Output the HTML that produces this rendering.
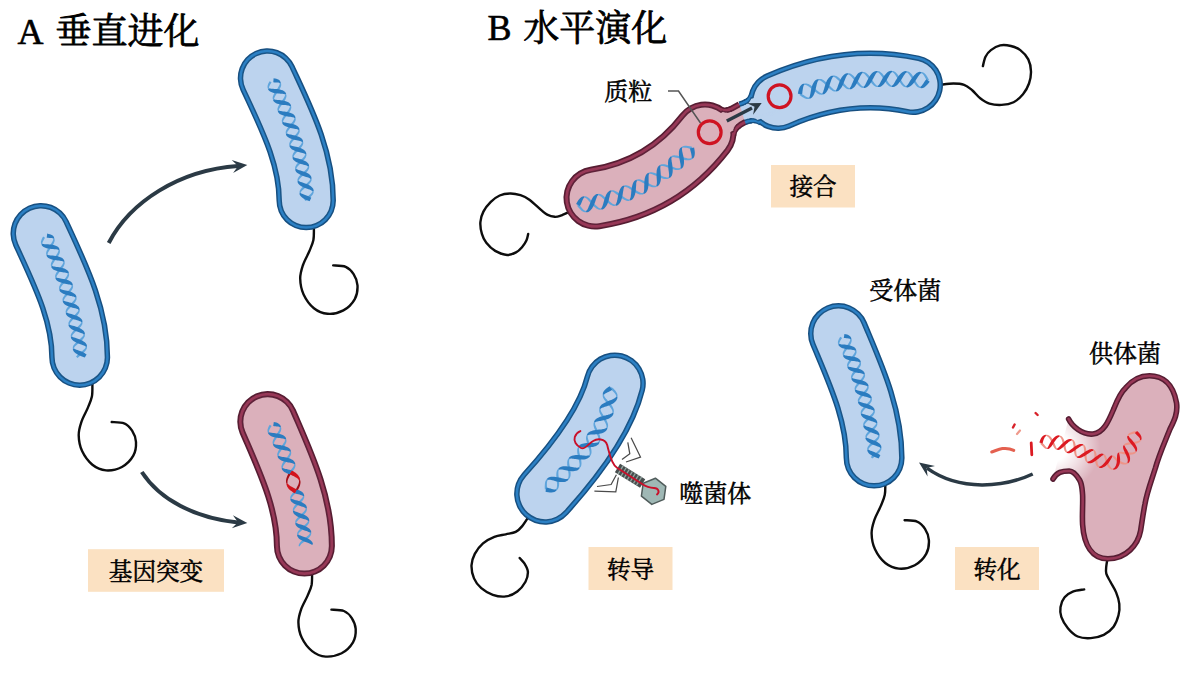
<!DOCTYPE html>
<html lang="zh"><head><meta charset="utf-8"><title>垂直进化与水平演化</title>
<style>
html,body{margin:0;padding:0;background:#fff;}
body{width:1181px;height:673px;overflow:hidden;font-family:"Liberation Serif","Noto Serif CJK SC",serif;}
svg text{font-family:"Liberation Serif","Noto Serif CJK SC",serif;}
</style></head><body>
<svg width="1181" height="673" viewBox="0 0 1181 673" style="display:block">
<text x="17.6" y="43.8" font-size="36" fill="#000" stroke="#000" stroke-width="0.6">A</text>
<text x="55.5" y="44.4" font-size="36" fill="#000" stroke="#000" stroke-width="0.8" stroke-linejoin="round">垂直进化</text>
<text x="487.5" y="40.4" font-size="36" fill="#000" stroke="#000" stroke-width="0.6">B</text>
<text x="523.2" y="40.6" font-size="36" fill="#000" stroke="#000" stroke-width="0.8" stroke-linejoin="round">水平演化</text>
<path d="M92.4 383.4C92.3 385.6 92.7 392.5 91.9 396.6C91.1 400.6 89.5 403.7 87.8 407.9C86.1 412.0 83.0 417.0 81.5 421.6C80.0 426.1 78.6 430.2 78.7 435.2C78.8 440.1 79.8 446.1 82.1 451.1C84.4 456.0 88.4 461.5 92.4 464.8C96.4 468.0 101.1 470.0 106.0 470.4C110.9 470.7 117.4 469.4 121.9 467.0C126.5 464.5 131.0 459.8 133.3 455.7C135.7 451.5 136.2 446.1 136.0 442.0C135.8 437.8 134.1 433.8 132.1 430.7C130.1 427.6 127.6 424.8 124.2 423.4C120.8 421.9 113.8 422.2 111.7 422.0" fill="none" stroke="#0d0d0d" stroke-width="2.4" stroke-linecap="round" stroke-linejoin="round"/>
<path d="M41.0 233.4C59.3 273.4 79.7 313.4 79.7 357.4" fill="none" stroke="#174f80" stroke-width="61.0" stroke-linecap="round" stroke-linejoin="round"/>
<path d="M41.0 233.4C59.3 273.4 79.7 313.4 79.7 357.4" fill="none" stroke="#2c80c4" stroke-width="58.0" stroke-linecap="round" stroke-linejoin="round"/>
<path d="M41.0 233.4C59.3 273.4 79.7 313.4 79.7 357.4" fill="none" stroke="#1a5587" stroke-width="53.0" stroke-linecap="round" stroke-linejoin="round"/>
<path d="M41.0 233.4C59.3 273.4 79.7 313.4 79.7 357.4" fill="none" stroke="#bcd3ee" stroke-width="50.0" stroke-linecap="round" stroke-linejoin="round"/>
<path d="M43.1 236.6L42.4 237.8L41.8 239.0L41.4 240.2L41.0 241.3L40.9 242.3L41.0 243.3L41.4 244.2L41.5 244.5L42.6 243.8L42.5 243.7L42.4 243.1L42.5 242.5L42.8 241.8L43.2 240.9L43.7 239.9L44.3 238.9L45.0 237.8Z" fill="#5fa5dc"/>
<path d="M53.2 238.7L53.2 239.3L53.0 240.0L52.8 240.8L52.3 241.7L51.7 242.7L51.1 243.8L50.3 244.9L49.5 246.1L48.7 247.3L48.0 248.5L47.3 249.7L46.7 250.8L46.3 252.0L46.1 253.0L46.1 254.1L46.4 255.0L46.5 255.3L47.6 254.8L47.6 254.6L47.6 254.0L47.7 253.4L48.0 252.6L48.5 251.7L49.1 250.7L49.8 249.7L50.6 248.5L51.4 247.4L52.2 246.1L52.9 244.9L53.6 243.7L54.1 242.5L54.5 241.4L54.7 240.2L54.6 239.2L54.3 238.3Z" fill="#5fa5dc"/>
<path d="M58.4 250.0L58.5 250.6L58.3 251.3L58.0 252.0L57.6 252.9L57.0 253.9L56.3 254.9L55.5 256.0L54.7 257.2L53.8 258.4L53.0 259.6L52.2 260.7L51.6 261.9L51.1 263.0L50.9 264.1L50.8 265.2L51.0 266.1L51.3 266.7L52.4 266.1L52.3 265.8L52.3 265.2L52.5 264.5L52.9 263.8L53.4 262.9L54.0 261.9L54.8 260.8L55.6 259.7L56.5 258.5L57.4 257.3L58.1 256.1L58.8 254.9L59.4 253.8L59.8 252.6L59.9 251.5L59.9 250.5L59.5 249.6Z" fill="#5fa5dc"/>
<path d="M63.3 261.8L63.3 262.4L63.1 263.1L62.7 263.9L62.2 264.8L61.5 265.8L60.7 266.8L59.8 267.9L58.9 269.1L58.0 270.2L57.2 271.4L56.4 272.6L55.8 273.7L55.4 274.8L55.1 275.9L55.1 276.9L55.4 277.9L56.6 277.4L56.5 276.9L56.7 276.2L57.0 275.5L57.5 274.7L58.2 273.7L59.0 272.7L59.8 271.6L60.7 270.5L61.6 269.3L62.5 268.1L63.3 267.0L63.9 265.8L64.4 264.6L64.7 263.5L64.7 262.4L64.5 261.5Z" fill="#5fa5dc"/>
<path d="M67.7 273.5L67.7 274.1L67.5 274.8L67.1 275.5L66.6 276.4L65.9 277.4L65.1 278.4L64.2 279.5L63.2 280.6L62.3 281.7L61.3 282.9L60.5 284.0L59.9 285.2L59.3 286.3L59.1 287.4L59.0 288.4L59.3 289.4L60.4 289.0L60.4 288.4L60.6 287.8L61.0 287.0L61.5 286.2L62.2 285.3L63.1 284.3L64.0 283.2L65.0 282.1L65.9 280.9L66.8 279.7L67.6 278.6L68.3 277.4L68.8 276.3L69.1 275.2L69.1 274.1L68.8 273.1Z" fill="#5fa5dc"/>
<path d="M71.7 285.4L71.6 286.1L71.4 286.7L71.0 287.5L70.5 288.3L69.7 289.3L68.8 290.3L67.9 291.4L66.9 292.5L65.9 293.6L64.9 294.7L64.1 295.9L63.4 297.0L62.8 298.1L62.5 299.2L62.5 300.2L62.8 301.2L63.9 300.8L63.9 300.2L64.1 299.6L64.4 298.9L65.0 298.1L65.7 297.1L66.6 296.2L67.6 295.1L68.6 294.0L69.6 292.9L70.5 291.7L71.4 290.6L72.1 289.4L72.7 288.3L73.0 287.2L73.1 286.1L72.8 285.1Z" fill="#5fa5dc"/>
<path d="M75.3 297.6L75.2 298.3L74.9 298.9L74.4 299.7L73.8 300.6L72.9 301.5L72.0 302.6L71.0 303.6L69.9 304.7L68.9 305.8L67.9 307.0L67.0 308.1L66.3 309.2L65.9 310.3L65.6 311.4L65.7 312.4L65.9 313.1L67.0 312.6L67.0 312.3L67.1 311.7L67.4 311.0L67.9 310.2L68.7 309.3L69.5 308.4L70.5 307.4L71.6 306.3L72.6 305.2L73.7 304.1L74.6 302.9L75.4 301.8L76.0 300.6L76.5 299.5L76.6 298.4L76.5 297.4Z" fill="#5fa5dc"/>
<path d="M78.4 309.9L78.3 310.5L78.0 311.2L77.5 312.0L76.7 312.8L75.9 313.8L74.8 314.8L73.8 315.8L72.6 316.9L71.6 318.0L70.6 319.1L69.7 320.3L69.0 321.4L68.5 322.5L68.4 323.6L68.5 324.6L68.5 324.9L69.8 324.5L69.7 324.3L69.8 323.7L70.1 323.1L70.6 322.3L71.3 321.5L72.1 320.6L73.2 319.6L74.2 318.6L75.4 317.5L76.5 316.4L77.5 315.3L78.3 314.1L79.1 313.0L79.5 311.8L79.8 310.7L79.7 309.7Z" fill="#5fa5dc"/>
<path d="M81.2 322.1L81.1 322.7L80.7 323.4L80.2 324.2L79.4 325.1L78.5 326.0L77.4 327.0L76.3 328.1L75.1 329.1L74.0 330.2L73.0 331.3L72.1 332.4L71.4 333.5L70.9 334.6L70.7 335.7L70.9 336.7L72.1 336.5L72.1 335.9L72.4 335.2L72.9 334.5L73.6 333.7L74.5 332.8L75.5 331.8L76.7 330.8L77.8 329.7L79.0 328.7L80.0 327.5L81.0 326.4L81.7 325.3L82.3 324.2L82.5 323.0L82.5 322.0Z" fill="#5fa5dc"/>
<path d="M83.6 334.4L83.5 335.0L83.2 335.7L82.6 336.5L81.8 337.3L80.8 338.2L79.7 339.2L78.5 340.2L77.3 341.3L76.2 342.3L75.1 343.4L74.2 344.5L73.4 345.6L72.9 346.7L72.8 347.8L72.9 348.9L74.1 348.6L74.1 348.0L74.4 347.3L74.9 346.6L75.7 345.8L76.6 344.9L77.7 344.0L78.8 343.0L80.1 342.0L81.2 340.9L82.4 339.8L83.3 338.7L84.1 337.5L84.7 336.4L84.9 335.3L84.9 334.2Z" fill="#5fa5dc"/>
<path d="M85.7 346.8L85.5 347.5L85.1 348.2L84.5 348.9L83.6 349.8L82.6 350.7L81.4 351.7L80.2 352.7L78.9 353.7L77.7 354.8L76.6 355.9L76.0 356.6L77.5 358.0L78.1 357.4L79.2 356.5L80.4 355.5L81.6 354.5L82.9 353.4L84.1 352.3L85.1 351.2L86.0 350.1L86.6 349.0L87.0 347.9L87.0 346.7Z" fill="#5fa5dc"/>
<path d="M46.7 237.8L48.1 237.8L49.2 237.9L50.3 237.9L51.2 238.0L51.9 238.1L52.6 238.2L53.1 238.5L53.1 238.7L54.4 238.2L54.2 238.0L53.9 237.0L53.2 236.1L52.3 235.3L51.2 234.7L49.9 234.2L48.6 233.9L47.2 233.6Z" fill="#2b7cc0"/>
<path d="M41.5 244.5L41.9 245.5L42.6 246.3L43.6 247.0L44.8 247.6L46.0 248.0L47.4 248.4L48.8 248.6L50.2 248.8L51.6 249.0L53.0 249.1L54.2 249.2L55.3 249.2L56.3 249.3L57.1 249.5L57.7 249.6L58.3 249.9L58.4 250.0L59.6 249.6L59.5 249.2L59.1 248.3L58.4 247.3L57.4 246.6L56.3 245.9L55.0 245.4L53.6 245.1L52.2 244.8L50.7 244.6L49.3 244.4L48.0 244.3L46.7 244.3L45.6 244.2L44.6 244.2L43.9 244.1L43.2 244.0L42.7 243.8Z" fill="#2b7cc0"/>
<path d="M46.5 255.3L46.8 256.2L47.5 257.2L48.4 257.9L49.4 258.6L50.7 259.1L52.0 259.6L53.4 259.9L54.9 260.1L56.3 260.3L57.7 260.5L58.9 260.6L60.1 260.8L61.0 260.9L61.8 261.0L62.5 261.2L63.1 261.5L63.2 261.8L64.6 261.5L64.3 260.8L63.9 259.8L63.2 258.9L62.3 258.1L61.1 257.4L59.8 256.9L58.4 256.5L57.0 256.1L55.5 255.9L54.1 255.7L52.8 255.6L51.5 255.5L50.5 255.4L49.5 255.3L48.8 255.2L48.2 255.0L47.6 254.7Z" fill="#2b7cc0"/>
<path d="M51.2 266.7L51.6 267.7L52.3 268.6L53.2 269.4L54.3 270.1L55.6 270.6L57.0 271.1L58.4 271.5L59.8 271.7L61.2 272.0L62.6 272.2L63.8 272.4L64.9 272.5L65.8 272.7L66.6 272.9L67.2 273.1L67.7 273.5L68.9 273.1L68.6 272.1L68.1 271.1L67.2 270.2L66.1 269.4L64.9 268.8L63.5 268.3L62.1 267.9L60.6 267.5L59.2 267.3L57.8 267.1L56.5 266.9L55.4 266.8L54.4 266.6L53.6 266.5L53.0 266.3L52.4 266.1Z" fill="#2b7cc0"/>
<path d="M55.4 277.9L55.7 278.9L56.3 279.9L57.1 280.7L58.2 281.5L59.5 282.1L60.8 282.6L62.3 283.0L63.7 283.4L65.1 283.7L66.5 283.9L67.7 284.2L68.8 284.4L69.8 284.6L70.5 284.8L71.2 285.0L71.7 285.4L72.8 285.1L72.6 284.0L72.1 283.0L71.3 282.1L70.2 281.3L68.9 280.6L67.6 280.0L66.1 279.6L64.7 279.2L63.2 278.9L61.8 278.7L60.6 278.4L59.5 278.3L58.5 278.1L57.7 277.9L57.1 277.7L56.6 277.4Z" fill="#2b7cc0"/>
<path d="M59.3 289.4L59.5 290.4L60.0 291.4L60.9 292.3L62.0 293.1L63.2 293.8L64.6 294.3L66.0 294.8L67.5 295.2L68.9 295.6L70.3 295.9L71.5 296.1L72.6 296.4L73.5 296.6L74.3 296.9L74.9 297.2L75.2 297.6L76.5 297.4L76.3 296.3L75.9 295.3L75.1 294.3L74.0 293.4L72.8 292.7L71.5 292.0L70.0 291.5L68.6 291.1L67.1 290.7L65.7 290.4L64.4 290.2L63.3 289.9L62.4 289.7L61.6 289.5L61.0 289.3L60.4 289.0Z" fill="#2b7cc0"/>
<path d="M62.7 301.2L63.0 302.3L63.6 303.3L64.5 304.2L65.6 305.0L66.9 305.7L68.3 306.3L69.7 306.8L71.2 307.3L72.6 307.7L73.9 308.0L75.1 308.3L76.2 308.6L77.0 308.9L77.7 309.1L78.3 309.5L78.4 309.9L79.7 309.7L79.6 309.0L79.3 307.9L78.7 306.8L77.7 305.9L76.6 305.0L75.3 304.3L73.9 303.7L72.4 303.2L70.9 302.7L69.5 302.4L68.2 302.1L67.0 301.8L66.0 301.6L65.2 301.3L64.5 301.1L64.0 300.8Z" fill="#2b7cc0"/>
<path d="M65.8 313.1L66.0 314.2L66.7 315.2L67.6 316.2L68.7 317.0L70.0 317.7L71.4 318.4L72.9 318.9L74.3 319.4L75.7 319.8L77.1 320.2L78.2 320.6L79.2 320.9L80.0 321.2L80.7 321.5L81.2 321.9L81.2 322.1L82.5 322.0L82.4 321.6L82.3 320.5L81.8 319.4L80.9 318.4L79.8 317.4L78.6 316.7L77.2 316.0L75.7 315.4L74.2 314.9L72.8 314.4L71.4 314.1L70.2 313.8L69.2 313.5L68.3 313.2L67.7 312.9L67.1 312.6Z" fill="#2b7cc0"/>
<path d="M68.5 324.9L68.7 326.0L69.3 327.1L70.2 328.1L71.3 329.0L72.6 329.8L74.0 330.5L75.5 331.1L77.0 331.6L78.4 332.1L79.7 332.5L80.9 332.9L81.8 333.2L82.6 333.5L83.2 333.9L83.6 334.4L84.9 334.2L84.8 333.1L84.4 331.9L83.6 330.8L82.6 329.9L81.3 329.0L79.9 328.3L78.5 327.6L77.0 327.0L75.5 326.6L74.2 326.1L72.9 325.8L71.9 325.5L71.0 325.2L70.3 324.9L69.8 324.5Z" fill="#2b7cc0"/>
<path d="M70.8 336.8L71.0 337.9L71.5 339.0L72.4 340.1L73.5 341.0L74.8 341.8L76.2 342.6L77.6 343.2L79.1 343.8L80.5 344.3L81.9 344.8L83.0 345.2L84.0 345.6L84.8 345.9L85.4 346.3L85.7 346.8L87.0 346.7L86.9 345.6L86.6 344.4L85.8 343.3L84.8 342.3L83.6 341.4L82.2 340.6L80.7 339.9L79.2 339.2L77.8 338.7L76.4 338.3L75.2 337.8L74.1 337.5L73.3 337.2L72.6 336.9L72.1 336.5Z" fill="#2b7cc0"/>
<path d="M72.8 348.9L73.0 350.1L73.6 351.2L74.5 352.3L75.6 353.3L76.9 354.1L78.3 354.9L79.8 355.6L81.3 356.2L82.7 356.7L84.0 357.2L84.8 357.5L86.6 354.6L85.8 354.0L84.5 353.1L83.0 352.3L81.5 351.6L80.0 351.0L78.6 350.5L77.4 350.1L76.3 349.7L75.4 349.3L74.7 349.0L74.2 348.6Z" fill="#2b7cc0"/>
<path d="M313.9 226.8C313.8 229.0 314.2 235.9 313.4 240.0C312.6 244.1 311.0 247.1 309.3 251.3C307.6 255.5 304.5 260.5 303.0 265.0C301.5 269.6 300.1 273.7 300.2 278.6C300.3 283.5 301.3 289.6 303.6 294.5C305.9 299.4 309.9 305.0 313.9 308.2C317.9 311.4 322.6 313.4 327.5 313.8C332.4 314.2 338.8 312.9 343.4 310.4C347.9 308.0 352.4 303.3 354.8 299.1C357.1 294.9 357.7 289.6 357.5 285.4C357.3 281.2 355.6 277.2 353.6 274.1C351.6 271.0 349.1 268.3 345.7 266.8C342.3 265.4 335.3 265.6 333.2 265.4" fill="none" stroke="#0d0d0d" stroke-width="2.4" stroke-linecap="round" stroke-linejoin="round"/>
<path d="M267.5 78.0C285.8 117.6 306.2 157.1 306.2 200.6" fill="none" stroke="#174f80" stroke-width="59.5" stroke-linecap="round" stroke-linejoin="round"/>
<path d="M267.5 78.0C285.8 117.6 306.2 157.1 306.2 200.6" fill="none" stroke="#2c80c4" stroke-width="56.5" stroke-linecap="round" stroke-linejoin="round"/>
<path d="M267.5 78.0C285.8 117.6 306.2 157.1 306.2 200.6" fill="none" stroke="#1a5587" stroke-width="51.5" stroke-linecap="round" stroke-linejoin="round"/>
<path d="M267.5 78.0C285.8 117.6 306.2 157.1 306.2 200.6" fill="none" stroke="#bcd3ee" stroke-width="48.5" stroke-linecap="round" stroke-linejoin="round"/>
<path d="M269.6 81.2L268.9 82.4L268.3 83.5L267.9 84.7L267.6 85.8L267.5 86.9L267.6 87.8L267.9 88.7L268.0 89.0L269.1 88.3L269.0 88.2L269.0 87.7L269.1 87.0L269.3 86.3L269.7 85.4L270.2 84.5L270.8 83.4L271.5 82.3Z" fill="#5fa5dc"/>
<path d="M279.7 83.2L279.7 83.8L279.6 84.4L279.3 85.2L278.9 86.1L278.3 87.1L277.7 88.2L276.9 89.3L276.1 90.4L275.4 91.6L274.6 92.8L273.9 94.0L273.4 95.2L272.9 96.3L272.7 97.4L272.7 98.4L272.9 99.3L273.1 99.9L274.2 99.3L274.1 99.0L274.2 98.4L274.4 97.8L274.7 97.0L275.2 96.1L275.8 95.1L276.5 94.0L277.3 92.9L278.1 91.7L278.8 90.5L279.6 89.3L280.2 88.1L280.7 86.9L281.1 85.8L281.2 84.7L281.1 83.6L280.8 82.7Z" fill="#5fa5dc"/>
<path d="M285.0 94.6L285.0 95.2L284.9 95.8L284.6 96.6L284.1 97.5L283.5 98.5L282.8 99.5L282.0 100.6L281.2 101.7L280.4 102.9L279.6 104.1L278.8 105.3L278.2 106.4L277.8 107.5L277.5 108.6L277.4 109.6L277.6 110.6L277.9 111.2L279.0 110.6L278.9 110.3L278.9 109.7L279.1 109.0L279.5 108.3L280.0 107.4L280.6 106.4L281.4 105.4L282.2 104.3L283.1 103.1L283.9 101.9L284.7 100.7L285.4 99.5L285.9 98.3L286.3 97.2L286.5 96.1L286.4 95.1L286.1 94.2Z" fill="#5fa5dc"/>
<path d="M289.9 106.3L289.9 106.9L289.7 107.6L289.3 108.3L288.8 109.2L288.2 110.2L287.4 111.2L286.5 112.3L285.7 113.4L284.8 114.6L283.9 115.8L283.2 116.9L282.5 118.0L282.1 119.2L281.8 120.2L281.8 121.3L282.0 122.2L282.1 122.5L283.3 122.0L283.2 121.8L283.2 121.3L283.4 120.6L283.7 119.9L284.3 119.0L284.9 118.1L285.7 117.1L286.6 116.0L287.5 114.9L288.4 113.7L289.2 112.5L290.0 111.3L290.6 110.2L291.0 109.0L291.3 107.9L291.3 106.9L291.1 105.9Z" fill="#5fa5dc"/>
<path d="M294.3 118.1L294.3 118.7L294.1 119.3L293.7 120.1L293.2 121.0L292.5 121.9L291.6 123.0L290.7 124.0L289.8 125.1L288.9 126.3L288.0 127.4L287.2 128.6L286.5 129.7L286.0 130.8L285.7 131.9L285.7 132.9L285.9 133.8L287.1 133.5L287.1 132.9L287.3 132.3L287.6 131.5L288.2 130.7L288.9 129.8L289.7 128.8L290.6 127.7L291.6 126.6L292.5 125.5L293.4 124.3L294.2 123.2L294.9 122.0L295.4 120.9L295.7 119.8L295.7 118.7L295.5 117.7Z" fill="#5fa5dc"/>
<path d="M298.3 129.9L298.3 130.5L298.1 131.2L297.7 131.9L297.2 132.8L296.4 133.7L295.6 134.7L294.6 135.7L293.6 136.8L292.6 138.0L291.7 139.1L290.8 140.2L290.1 141.3L289.6 142.4L289.3 143.5L289.2 144.6L289.4 145.5L290.6 145.2L290.6 144.6L290.8 144.0L291.2 143.2L291.8 142.4L292.5 141.5L293.4 140.5L294.3 139.5L295.3 138.4L296.3 137.3L297.3 136.1L298.1 135.0L298.8 133.8L299.4 132.7L299.7 131.6L299.7 130.5L299.5 129.5Z" fill="#5fa5dc"/>
<path d="M301.9 142.0L301.9 142.6L301.6 143.3L301.2 144.0L300.6 144.9L299.8 145.8L298.9 146.8L297.9 147.8L296.9 148.9L295.8 150.0L294.8 151.1L293.9 152.2L293.2 153.3L292.7 154.4L292.4 155.5L292.3 156.6L292.5 157.5L293.7 157.1L293.7 156.5L293.9 155.9L294.2 155.2L294.8 154.4L295.6 153.6L296.5 152.6L297.5 151.6L298.5 150.5L299.6 149.4L300.6 148.3L301.5 147.1L302.2 146.0L302.8 144.9L303.2 143.8L303.3 142.7L303.1 141.7Z" fill="#5fa5dc"/>
<path d="M305.1 154.3L305.0 155.0L304.7 155.6L304.2 156.4L303.5 157.3L302.6 158.2L301.6 159.2L300.5 160.3L299.4 161.3L298.3 162.4L297.3 163.5L296.5 164.6L295.8 165.7L295.3 166.8L295.1 167.9L295.1 168.9L295.2 169.2L296.4 168.9L296.4 168.7L296.5 168.1L296.8 167.5L297.3 166.7L298.0 165.9L298.9 165.0L299.9 164.0L301.0 163.0L302.1 161.9L303.2 160.8L304.2 159.7L305.1 158.5L305.8 157.4L306.2 156.3L306.5 155.2L306.4 154.2Z" fill="#5fa5dc"/>
<path d="M307.9 166.5L307.8 167.1L307.5 167.8L307.0 168.6L306.3 169.4L305.4 170.3L304.3 171.3L303.2 172.3L302.1 173.4L300.9 174.4L299.9 175.5L299.0 176.6L298.2 177.7L297.7 178.8L297.4 179.9L297.5 180.9L297.6 181.3L298.8 181.0L298.7 180.8L298.9 180.2L299.2 179.5L299.7 178.8L300.5 177.9L301.4 177.0L302.5 176.1L303.6 175.0L304.8 174.0L305.9 172.9L306.9 171.8L307.8 170.7L308.5 169.6L309.0 168.4L309.2 167.3L309.1 166.3Z" fill="#5fa5dc"/>
<path d="M310.3 178.9L310.2 179.5L309.8 180.2L309.3 180.9L308.5 181.8L307.5 182.7L306.4 183.7L305.3 184.7L304.1 185.7L302.9 186.8L301.8 187.8L300.9 188.9L300.2 190.0L299.7 191.1L299.5 192.2L299.6 193.3L300.8 193.0L300.8 192.4L301.1 191.8L301.7 191.0L302.4 190.2L303.3 189.4L304.4 188.4L305.6 187.4L306.8 186.4L308.0 185.3L309.1 184.3L310.0 183.1L310.8 182.0L311.4 180.9L311.6 179.8L311.6 178.7Z" fill="#5fa5dc"/>
<path d="M312.4 191.2L312.2 191.9L311.9 192.6L311.3 193.3L310.4 194.2L309.4 195.1L308.3 196.0L307.1 197.0L305.8 198.0L304.6 199.1L304.2 199.4L305.7 201.1L306.1 200.8L307.3 199.8L308.5 198.8L309.8 197.7L310.9 196.7L311.9 195.6L312.8 194.5L313.4 193.3L313.7 192.2L313.6 191.1Z" fill="#5fa5dc"/>
<path d="M273.3 82.3L274.5 82.4L275.7 82.4L276.8 82.4L277.7 82.5L278.4 82.6L279.0 82.7L279.6 83.0L279.6 83.2L280.9 82.7L280.7 82.4L280.3 81.5L279.7 80.6L278.8 79.8L277.6 79.2L276.4 78.8L275.0 78.4L273.6 78.2Z" fill="#2b7cc0"/>
<path d="M268.0 89.0L268.4 89.9L269.1 90.8L270.1 91.5L271.2 92.1L272.4 92.5L273.8 92.9L275.2 93.2L276.6 93.3L278.0 93.5L279.3 93.6L280.6 93.7L281.7 93.7L282.7 93.8L283.5 93.9L284.1 94.1L284.7 94.3L285.0 94.6L286.2 94.1L286.0 93.5L285.5 92.6L284.8 91.7L283.8 90.9L282.6 90.3L281.3 89.9L279.9 89.5L278.5 89.3L277.1 89.1L275.7 89.0L274.3 88.9L273.1 88.8L272.0 88.8L271.1 88.7L270.3 88.6L269.7 88.5L269.2 88.3Z" fill="#2b7cc0"/>
<path d="M273.1 99.9L273.4 100.9L274.1 101.8L275.0 102.5L276.1 103.2L277.4 103.7L278.7 104.1L280.1 104.4L281.5 104.7L282.9 104.9L284.3 105.0L285.5 105.1L286.6 105.3L287.6 105.4L288.4 105.5L289.1 105.7L289.7 106.0L289.8 106.3L291.1 105.9L290.9 105.3L290.5 104.3L289.8 103.4L288.8 102.6L287.7 101.9L286.4 101.4L285.0 101.0L283.6 100.7L282.2 100.4L280.8 100.2L279.4 100.1L278.2 100.0L277.1 99.9L276.2 99.8L275.4 99.7L274.8 99.6L274.3 99.3Z" fill="#2b7cc0"/>
<path d="M277.8 111.2L278.2 112.2L278.8 113.1L279.7 113.9L280.9 114.6L282.1 115.1L283.5 115.6L284.9 115.9L286.3 116.2L287.7 116.5L289.0 116.7L290.3 116.8L291.4 117.0L292.3 117.2L293.1 117.3L293.7 117.5L294.2 117.9L294.3 118.1L295.6 117.7L295.4 117.4L295.2 116.4L294.6 115.4L293.7 114.5L292.6 113.8L291.3 113.2L290.0 112.7L288.5 112.3L287.1 112.0L285.7 111.7L284.3 111.6L283.1 111.4L281.9 111.3L281.0 111.1L280.2 111.0L279.6 110.8L279.0 110.6Z" fill="#2b7cc0"/>
<path d="M282.1 122.5L282.4 123.5L283.0 124.5L283.9 125.3L285.0 126.0L286.2 126.6L287.6 127.1L289.0 127.5L290.4 127.9L291.9 128.2L293.2 128.4L294.4 128.7L295.5 128.9L296.4 129.1L297.2 129.3L297.8 129.5L298.3 129.9L299.5 129.5L299.3 128.5L298.7 127.5L297.9 126.6L296.8 125.8L295.6 125.1L294.3 124.5L292.8 124.1L291.4 123.7L290.0 123.4L288.6 123.2L287.3 123.0L286.2 122.8L285.2 122.6L284.5 122.5L283.8 122.3L283.3 122.0Z" fill="#2b7cc0"/>
<path d="M285.9 133.8L286.1 134.9L286.7 135.9L287.5 136.8L288.6 137.5L289.8 138.2L291.1 138.8L292.6 139.3L294.0 139.7L295.4 140.0L296.8 140.3L298.0 140.6L299.1 140.8L300.1 141.1L300.8 141.3L301.4 141.6L301.9 142.0L303.1 141.7L302.9 140.6L302.4 139.6L301.6 138.6L300.6 137.8L299.3 137.1L298.0 136.4L296.6 135.9L295.1 135.5L293.7 135.2L292.3 134.9L291.0 134.6L289.9 134.4L289.0 134.2L288.2 134.0L287.6 133.8L287.1 133.5Z" fill="#2b7cc0"/>
<path d="M289.4 145.5L289.6 146.6L290.1 147.6L291.0 148.5L292.0 149.4L293.3 150.1L294.6 150.7L296.0 151.2L297.5 151.7L298.9 152.0L300.3 152.4L301.5 152.7L302.6 153.0L303.5 153.2L304.2 153.5L304.8 153.8L305.1 154.3L306.4 154.2L306.2 153.1L305.8 152.0L305.1 151.0L304.1 150.1L302.9 149.3L301.6 148.6L300.2 148.0L298.7 147.5L297.3 147.1L295.9 146.8L294.6 146.5L293.5 146.2L292.5 146.0L291.7 145.8L291.1 145.5L290.6 145.2Z" fill="#2b7cc0"/>
<path d="M292.5 157.6L292.7 158.6L293.3 159.7L294.2 160.6L295.4 161.5L296.6 162.2L298.0 162.8L299.5 163.4L300.9 163.9L302.3 164.3L303.6 164.7L304.8 165.0L305.8 165.3L306.6 165.6L307.3 165.9L307.8 166.3L307.9 166.5L309.2 166.3L309.1 165.9L308.9 164.8L308.4 163.7L307.5 162.7L306.4 161.8L305.1 161.1L303.7 160.4L302.3 159.8L300.8 159.3L299.4 158.9L298.1 158.5L296.9 158.2L295.8 157.9L295.0 157.7L294.3 157.4L293.8 157.1Z" fill="#2b7cc0"/>
<path d="M295.2 169.2L295.3 170.3L295.9 171.4L296.7 172.4L297.8 173.3L299.1 174.1L300.4 174.8L301.9 175.4L303.3 176.0L304.8 176.4L306.1 176.9L307.3 177.2L308.3 177.6L309.1 177.9L309.8 178.2L310.3 178.7L310.3 178.9L311.6 178.7L311.5 178.4L311.4 177.2L310.9 176.1L310.0 175.1L309.0 174.1L307.7 173.3L306.3 172.6L304.8 171.9L303.4 171.4L301.9 170.9L300.6 170.5L299.4 170.2L298.4 169.9L297.6 169.6L296.9 169.3L296.4 168.9Z" fill="#2b7cc0"/>
<path d="M297.5 181.3L297.7 182.4L298.2 183.5L299.1 184.5L300.2 185.5L301.4 186.3L302.8 187.0L304.3 187.7L305.7 188.3L307.2 188.8L308.5 189.2L309.6 189.6L310.6 190.0L311.4 190.4L312.0 190.7L312.4 191.2L313.7 191.1L313.6 190.0L313.2 188.8L312.4 187.7L311.4 186.7L310.2 185.8L308.8 185.0L307.4 184.3L305.9 183.7L304.4 183.2L303.1 182.7L301.9 182.3L300.8 182.0L300.0 181.7L299.3 181.3L298.8 180.9Z" fill="#2b7cc0"/>
<path d="M299.5 193.3L299.6 194.4L300.2 195.6L301.0 196.6L302.1 197.6L303.4 198.5L304.8 199.3L306.2 200.0L307.7 200.6L309.1 201.1L309.6 201.3L311.3 197.7L310.9 197.4L309.4 196.7L307.9 196.0L306.5 195.4L305.1 194.9L303.9 194.5L302.8 194.1L302.0 193.8L301.3 193.4L300.8 193.0Z" fill="#2b7cc0"/>
<path d="M312.1 572.2C312.0 574.3 312.3 581.0 311.6 585.0C310.8 588.9 309.2 591.9 307.5 595.9C305.7 600.0 302.7 604.8 301.2 609.2C299.7 613.6 298.3 617.7 298.4 622.4C298.5 627.2 299.5 633.1 301.8 637.8C304.1 642.6 308.1 648.0 312.1 651.1C316.1 654.3 320.8 656.2 325.7 656.6C330.6 656.9 337.0 655.6 341.6 653.3C346.1 650.9 350.6 646.3 353.0 642.3C355.3 638.3 355.9 633.1 355.7 629.0C355.5 625.0 353.7 621.1 351.8 618.1C349.8 615.0 347.3 612.4 343.9 611.0C340.5 609.6 333.5 609.8 331.4 609.6" fill="none" stroke="#0d0d0d" stroke-width="2.4" stroke-linecap="round" stroke-linejoin="round"/>
<path d="M267.8 421.6C285.1 461.8 304.4 502.0 304.4 546.1" fill="none" stroke="#561d32" stroke-width="61.0" stroke-linecap="round" stroke-linejoin="round"/>
<path d="M267.8 421.6C285.1 461.8 304.4 502.0 304.4 546.1" fill="none" stroke="#973857" stroke-width="57.7" stroke-linecap="round" stroke-linejoin="round"/>
<path d="M267.8 421.6C285.1 461.8 304.4 502.0 304.4 546.1" fill="none" stroke="#5f2239" stroke-width="52.2" stroke-linecap="round" stroke-linejoin="round"/>
<path d="M267.8 421.6C285.1 461.8 304.4 502.0 304.4 546.1" fill="none" stroke="#dbb0bb" stroke-width="48.9" stroke-linecap="round" stroke-linejoin="round"/>
<path d="M269.7 424.7L269.0 425.9L268.4 427.1L268.0 428.2L267.6 429.3L267.5 430.3L267.5 431.3L267.7 432.2L268.0 432.8L269.1 432.2L269.0 431.8L269.0 431.3L269.1 430.6L269.4 429.8L269.8 429.0L270.3 428.0L270.9 427.0L271.6 425.9Z" fill="#5fa5dc"/>
<path d="M279.8 427.3L279.8 427.9L279.7 428.6L279.5 429.3L279.1 430.2L278.6 431.1L278.0 432.1L277.3 433.2L276.5 434.3L275.7 435.4L275.0 436.6L274.3 437.7L273.6 438.9L273.1 440.0L272.8 441.1L272.6 442.1L272.6 443.1L272.8 444.0L273.0 444.3L274.1 443.8L274.0 443.7L274.0 443.1L274.2 442.4L274.5 441.7L274.9 440.8L275.5 439.9L276.1 438.9L276.9 437.8L277.6 436.7L278.4 435.6L279.1 434.4L279.8 433.2L280.4 432.1L280.9 430.9L281.2 429.8L281.3 428.8L281.2 427.8L280.9 426.9Z" fill="#5fa5dc"/>
<path d="M285.0 439.4L285.0 440.0L284.9 440.6L284.7 441.4L284.3 442.2L283.7 443.1L283.1 444.1L282.3 445.2L281.5 446.3L280.7 447.4L279.9 448.5L279.1 449.7L278.4 450.8L277.9 451.9L277.5 453.0L277.2 454.0L277.2 455.0L277.5 456.0L277.6 456.2L278.7 455.8L278.7 455.6L278.7 455.0L278.8 454.4L279.2 453.6L279.6 452.8L280.2 451.9L280.9 450.9L281.7 449.8L282.5 448.7L283.4 447.6L284.2 446.4L284.9 445.3L285.5 444.1L286.0 443.0L286.4 441.9L286.5 440.8L286.4 439.8L286.1 438.9Z" fill="#5fa5dc"/>
<path d="M289.8 451.7L289.8 452.4L289.6 453.0L289.3 453.8L288.9 454.6L288.3 455.5L287.6 456.5L286.7 457.6L285.9 458.6L285.0 459.7L284.1 460.9L283.3 462.0L282.6 463.1L282.1 464.2L281.7 465.3L281.4 466.4L281.5 467.4L281.7 468.3L282.9 467.9L282.9 467.3L283.0 466.7L283.3 465.9L283.8 465.1L284.4 464.2L285.1 463.3L285.9 462.3L286.8 461.2L287.7 460.1L288.5 458.9L289.3 457.8L290.0 456.6L290.6 455.5L291.0 454.4L291.2 453.3L291.2 452.3L290.9 451.4Z" fill="#5fa5dc"/>
<path d="M294.1 464.2L294.1 464.8L293.9 465.5L293.6 466.3L293.1 467.1L292.4 468.0L291.6 469.0L290.8 470.0L289.9 471.1L289.2 472.0L291.3 473.1L291.6 472.6L292.5 471.4L293.4 470.3L294.2 469.2L294.8 468.0L295.2 466.9L295.5 465.9L295.5 464.8L295.3 463.9Z" fill="#5fa5dc"/>
<path d="M289.2 472.0L288.7 472.9L288.2 473.9L287.7 474.9L287.3 475.9L286.9 476.9L286.6 477.8L286.3 478.8L286.1 479.7L286.0 480.7L286.0 481.6L286.1 482.4L286.3 483.3L286.4 483.8L287.6 483.5L287.5 483.0L287.5 482.3L287.5 481.6L287.6 480.9L287.8 480.1L288.1 479.3L288.4 478.5L288.8 477.7L289.2 476.8L289.7 475.9L290.2 475.0L290.7 474.0L291.3 473.1Z" fill="#a50d16"/>
<path d="M298.9 480.3L299.0 481.0L299.0 481.8L298.9 482.5L298.7 483.3L298.5 484.1L298.1 484.9L297.7 485.8L297.3 486.6L296.8 487.5L296.3 488.5L295.7 489.4L295.1 490.4L294.8 490.8L296.5 492.4L297.1 491.5L297.7 490.6L298.2 489.6L298.7 488.6L299.2 487.6L299.6 486.6L300.0 485.6L300.2 484.6L300.4 483.6L300.5 482.7L300.5 481.8L300.4 480.9L300.1 480.0Z" fill="#a50d16"/>
<path d="M294.8 490.8L293.7 491.9L292.7 493.0L291.8 494.2L291.0 495.3L290.4 496.4L290.2 497.5L290.2 498.5L290.4 499.2L291.5 498.8L291.5 498.4L291.6 497.8L292.0 497.1L292.6 496.4L293.3 495.5L294.3 494.5L295.3 493.5L296.5 492.4Z" fill="#5fa5dc"/>
<path d="M303.0 496.1L302.8 496.7L302.5 497.4L301.9 498.2L301.1 499.1L300.2 500.0L299.1 501.0L298.0 502.1L296.9 503.2L295.9 504.3L294.9 505.3L294.1 506.4L293.5 507.5L293.0 508.6L292.8 509.7L292.9 510.7L293.0 511.0L294.1 510.7L294.1 510.5L294.2 509.9L294.5 509.2L295.0 508.5L295.7 507.7L296.5 506.8L297.5 505.8L298.5 504.8L299.6 503.8L300.7 502.7L301.8 501.5L302.7 500.4L303.5 499.2L304.0 498.1L304.3 497.0L304.2 495.9Z" fill="#5fa5dc"/>
<path d="M305.7 508.4L305.6 509.0L305.3 509.7L304.8 510.5L304.2 511.3L303.3 512.2L302.4 513.1L301.3 514.1L300.2 515.2L299.0 516.2L297.9 517.3L296.9 518.4L296.1 519.5L295.5 520.6L295.2 521.8L295.2 522.8L295.3 523.2L296.5 522.9L296.4 522.7L296.6 522.1L297.0 521.4L297.6 520.7L298.4 519.8L299.4 518.9L300.6 517.9L301.8 516.9L302.9 515.8L304.0 514.7L304.9 513.6L305.8 512.5L306.4 511.4L306.8 510.3L307.0 509.2L306.9 508.2Z" fill="#5fa5dc"/>
<path d="M308.0 520.9L307.9 521.5L307.5 522.2L306.9 522.9L306.0 523.8L305.0 524.7L303.8 525.7L302.6 526.7L301.3 527.8L300.1 528.9L299.1 530.0L298.2 531.1L297.5 532.2L297.1 533.3L297.1 534.4L297.2 534.7L298.4 534.5L298.4 534.3L298.5 533.7L299.0 533.1L299.6 532.3L300.5 531.4L301.6 530.5L302.8 529.5L304.1 528.5L305.3 527.4L306.5 526.3L307.5 525.2L308.4 524.1L309.0 522.9L309.3 521.8L309.3 520.7Z" fill="#5fa5dc"/>
<path d="M310.0 532.8L309.8 533.4L309.5 534.1L308.8 534.9L307.9 535.7L306.9 536.6L305.7 537.6L304.4 538.6L303.1 539.6L301.8 540.7L300.7 541.8L299.8 542.9L299.1 544.0L298.7 545.1L298.7 546.2L300.0 546.2L300.1 545.5L300.6 544.9L301.2 544.1L302.2 543.3L303.3 542.4L304.5 541.4L305.8 540.4L307.1 539.3L308.3 538.3L309.4 537.2L310.3 536.0L310.9 534.9L311.3 533.7L311.2 532.6Z" fill="#5fa5dc"/>
<path d="M273.2 426.1L274.4 426.2L275.6 426.3L276.6 426.4L277.5 426.5L278.3 426.6L278.9 426.8L279.5 427.0L279.7 427.3L281.0 426.9L280.7 426.3L280.3 425.3L279.6 424.5L278.7 423.7L277.6 423.1L276.4 422.6L275.1 422.2L273.8 421.9Z" fill="#2b7cc0"/>
<path d="M267.9 432.8L268.3 433.7L268.9 434.6L269.8 435.3L270.8 436.0L271.9 436.5L273.2 437.0L274.5 437.3L275.9 437.6L277.3 437.8L278.6 438.0L279.8 438.1L281.0 438.3L282.0 438.4L282.9 438.6L283.7 438.7L284.3 438.9L284.8 439.2L285.0 439.4L286.1 438.9L286.1 438.6L285.7 437.6L285.1 436.7L284.2 435.9L283.2 435.2L282.0 434.7L280.7 434.2L279.3 433.9L277.9 433.6L276.6 433.4L275.2 433.2L274.0 433.1L272.9 432.9L271.8 432.8L271.0 432.7L270.2 432.6L269.6 432.4L269.1 432.2Z" fill="#2b7cc0"/>
<path d="M273.0 444.3L273.2 445.3L273.8 446.2L274.6 447.0L275.6 447.7L276.7 448.3L278.0 448.8L279.3 449.2L280.7 449.6L282.0 449.8L283.4 450.1L284.6 450.3L285.8 450.5L286.8 450.6L287.7 450.8L288.5 451.0L289.1 451.2L289.7 451.6L289.8 451.8L291.0 451.4L290.9 451.0L290.6 450.0L290.0 449.1L289.1 448.2L288.1 447.5L286.9 446.9L285.6 446.4L284.3 446.0L282.9 445.6L281.5 445.4L280.2 445.1L278.9 445.0L277.8 444.8L276.8 444.7L275.9 444.5L275.2 444.4L274.6 444.2L274.1 443.8Z" fill="#2b7cc0"/>
<path d="M277.6 456.3L277.8 457.2L278.4 458.2L279.2 459.0L280.2 459.8L281.3 460.4L282.6 460.9L283.9 461.4L285.3 461.8L286.7 462.1L288.0 462.4L289.3 462.6L290.4 462.8L291.4 463.1L292.3 463.3L293.0 463.5L293.6 463.8L294.1 464.2L295.3 463.9L295.1 462.9L294.6 461.9L293.8 460.9L292.8 460.1L291.7 459.4L290.4 458.8L289.1 458.3L287.7 457.9L286.3 457.6L284.9 457.3L283.7 457.1L282.5 456.9L281.5 456.7L280.6 456.5L279.9 456.3L279.2 456.1L278.7 455.8Z" fill="#2b7cc0"/>
<path d="M281.7 468.3L281.9 469.3L282.5 470.2L283.2 471.1L284.2 471.9L285.4 472.6L286.7 473.2L288.0 473.7L289.4 474.1L289.8 474.3L291.7 470.4L290.5 470.0L289.2 469.7L287.9 469.4L286.7 469.1L285.6 468.9L284.7 468.7L284.0 468.5L283.4 468.2L282.9 467.9Z" fill="#2b7cc0"/>
<path d="M289.8 474.3L290.7 474.8L291.7 475.2L292.6 475.7L293.5 476.1L294.3 476.5L295.1 477.0L295.9 477.4L296.6 477.8L297.2 478.3L297.8 478.8L298.3 479.3L298.7 479.9L298.9 480.3L300.1 480.0L300.0 479.4L299.9 478.5L299.6 477.6L299.1 476.7L298.6 475.9L298.0 475.1L297.2 474.3L296.4 473.5L295.6 472.8L294.7 472.2L293.7 471.6L292.7 471.0L291.7 470.4Z" fill="#d3121c"/>
<path d="M286.4 483.8L286.5 484.7L286.8 485.6L287.1 486.5L287.6 487.3L288.2 488.2L288.9 489.0L289.6 489.7L290.5 490.4L291.4 491.1L292.3 491.8L293.2 492.4L294.2 493.0L295.3 493.5L296.7 489.5L296.4 489.3L295.4 488.8L294.4 488.2L293.5 487.8L292.6 487.3L291.8 486.8L291.0 486.4L290.3 485.9L289.6 485.5L289.0 485.0L288.5 484.6L288.0 484.0L287.6 483.5Z" fill="#d3121c"/>
<path d="M295.3 493.5L296.9 494.0L298.3 494.3L299.5 494.6L300.6 494.9L301.5 495.2L302.2 495.4L302.8 495.8L302.9 496.1L304.3 495.9L304.1 495.2L303.8 494.1L303.1 493.0L302.2 492.1L301.0 491.3L299.6 490.6L298.1 490.0L296.7 489.5Z" fill="#2b7cc0"/>
<path d="M290.3 499.2L290.5 500.3L291.2 501.4L292.1 502.3L293.3 503.2L294.6 503.9L296.1 504.5L297.6 505.1L298.9 505.5L300.3 506.0L301.5 506.4L302.6 506.7L303.6 507.1L304.4 507.4L305.1 507.7L305.6 508.2L305.7 508.4L306.9 508.2L306.9 507.8L306.7 506.7L306.2 505.6L305.4 504.6L304.3 503.7L303.1 502.9L301.8 502.2L300.4 501.6L298.9 501.0L297.4 500.6L296.0 500.2L294.8 499.9L293.7 499.6L292.8 499.3L292.1 499.1L291.6 498.8Z" fill="#2b7cc0"/>
<path d="M292.9 511.0L293.1 512.1L293.5 513.2L294.3 514.2L295.3 515.1L296.5 516.0L297.8 516.7L299.1 517.4L300.6 518.0L302.1 518.5L303.5 518.9L304.8 519.3L305.9 519.6L306.8 519.9L307.4 520.3L308.0 520.7L308.0 520.9L309.3 520.7L309.3 520.4L309.1 519.2L308.5 518.0L307.6 517.0L306.4 516.0L305.1 515.2L303.6 514.5L302.1 513.9L300.7 513.4L299.4 512.9L298.1 512.5L297.0 512.1L296.1 511.8L295.3 511.5L294.7 511.2L294.2 510.7Z" fill="#2b7cc0"/>
<path d="M295.2 523.2L295.4 524.3L296.0 525.5L296.9 526.5L298.0 527.5L299.4 528.3L300.8 529.0L302.4 529.6L303.9 530.2L305.3 530.7L306.6 531.1L307.7 531.5L308.6 531.9L309.3 532.2L309.9 532.6L310.0 532.8L311.2 532.6L311.2 532.3L311.1 531.1L310.4 529.9L309.5 528.8L308.3 527.9L306.9 527.0L305.4 526.3L303.9 525.6L302.4 525.1L301.0 524.6L299.7 524.2L298.6 523.9L297.7 523.6L297.0 523.3L296.5 522.9Z" fill="#2b7cc0"/>
<path d="M297.1 534.8L297.2 535.9L297.8 537.1L298.6 538.2L299.8 539.2L301.1 540.0L302.6 540.8L304.1 541.5L305.6 542.1L307.1 542.6L308.4 543.1L309.5 543.5L310.4 543.9L311.1 544.3L311.6 544.7L312.9 544.4L312.8 543.3L312.2 542.1L311.3 540.9L310.2 539.9L308.8 539.0L307.3 538.2L305.8 537.5L304.2 536.9L302.8 536.4L301.5 536.0L300.4 535.6L299.6 535.3L298.9 534.9L298.4 534.5Z" fill="#2b7cc0"/>
<path d="M108.7 243C130 202 179 170 238 166" fill="none" stroke="#2b3a45" stroke-width="4.0"/>
<path d="M247.3 165.0L233.1 173.0L238.1 166.0L231.7 160.1Z" fill="#2b3a45"/>
<path d="M141.8 472C160 500 195 518 238 522.5" fill="none" stroke="#2b3a45" stroke-width="4.0"/>
<path d="M247.3 523.0L231.8 528.2L238.0 522.2L232.9 515.2Z" fill="#2b3a45"/>
<rect x="88.0" y="549.2" width="136.0" height="42.6" fill="#fbe1c2"/>
<text x="108.8" y="579.59" font-size="23.6" fill="#000" stroke="#000" stroke-width="0.5" stroke-linejoin="round">基因突变</text>
<path d="M885.3 481.6C885.2 483.8 885.6 490.7 884.8 494.8C884.0 498.9 882.4 501.9 880.7 506.1C879.0 510.3 875.9 515.2 874.4 519.8C872.9 524.3 871.5 528.5 871.6 533.4C871.7 538.3 872.7 544.4 875.0 549.3C877.3 554.2 881.3 559.8 885.3 563.0C889.3 566.2 894.0 568.2 898.9 568.6C903.8 569.0 910.3 567.6 914.8 565.2C919.4 562.7 923.9 558.1 926.2 553.9C928.6 549.7 929.1 544.4 928.9 540.2C928.7 536.0 927.0 532.0 925.0 528.9C923.0 525.8 920.5 523.0 917.1 521.6C913.7 520.1 906.7 520.4 904.6 520.2" fill="none" stroke="#0d0d0d" stroke-width="2.4" stroke-linecap="round" stroke-linejoin="round"/>
<path d="M838.5 333.6C855.3 373.8 874.1 414.0 874.1 458.1" fill="none" stroke="#174f80" stroke-width="61.0" stroke-linecap="round" stroke-linejoin="round"/>
<path d="M838.5 333.6C855.3 373.8 874.1 414.0 874.1 458.1" fill="none" stroke="#2c80c4" stroke-width="58.0" stroke-linecap="round" stroke-linejoin="round"/>
<path d="M838.5 333.6C855.3 373.8 874.1 414.0 874.1 458.1" fill="none" stroke="#1a5587" stroke-width="53.0" stroke-linecap="round" stroke-linejoin="round"/>
<path d="M838.5 333.6C855.3 373.8 874.1 414.0 874.1 458.1" fill="none" stroke="#bcd3ee" stroke-width="50.0" stroke-linecap="round" stroke-linejoin="round"/>
<path d="M840.2 336.7L839.5 337.9L838.9 339.1L838.4 340.2L838.0 341.3L837.9 342.3L837.9 343.3L838.3 344.2L838.4 344.5L839.5 343.9L839.4 343.7L839.4 343.2L839.5 342.6L839.7 341.9L840.2 341.0L840.7 340.1L841.4 339.1L842.1 338.0Z" fill="#5fa5dc"/>
<path d="M850.2 339.1L850.2 339.7L850.1 340.4L849.8 341.2L849.3 342.0L848.8 343.0L848.1 344.0L847.3 345.1L846.5 346.2L845.6 347.4L844.8 348.6L844.1 349.7L843.5 350.9L843.0 352.0L842.7 353.0L842.7 354.1L842.8 355.0L843.1 355.6L844.2 355.1L844.1 354.7L844.2 354.2L844.4 353.5L844.7 352.7L845.3 351.8L845.9 350.9L846.7 349.8L847.5 348.7L848.3 347.6L849.1 346.4L849.9 345.2L850.6 344.0L851.1 342.9L851.5 341.7L851.7 340.7L851.7 339.6L851.4 338.7Z" fill="#5fa5dc"/>
<path d="M855.1 350.7L855.1 351.3L855.0 352.0L854.6 352.7L854.2 353.6L853.5 354.5L852.8 355.5L852.0 356.6L851.1 357.7L850.2 358.9L849.4 360.0L848.6 361.2L847.9 362.3L847.4 363.4L847.1 364.5L847.0 365.5L847.2 366.5L847.4 367.1L848.6 366.5L848.5 366.2L848.5 365.6L848.7 365.0L849.1 364.2L849.7 363.3L850.4 362.4L851.2 361.3L852.0 360.3L852.9 359.1L853.8 358.0L854.6 356.8L855.3 355.6L855.9 354.5L856.3 353.4L856.6 352.3L856.5 351.2L856.3 350.3Z" fill="#5fa5dc"/>
<path d="M859.6 362.6L859.6 363.2L859.4 363.8L859.0 364.6L858.4 365.5L857.7 366.4L856.9 367.4L856.0 368.5L855.1 369.6L854.2 370.7L853.3 371.9L852.5 373.0L851.9 374.1L851.4 375.2L851.1 376.3L851.0 377.3L851.3 378.3L851.3 378.6L852.5 378.1L852.4 377.9L852.4 377.4L852.6 376.7L853.0 376.0L853.5 375.2L854.2 374.2L855.1 373.3L855.9 372.2L856.9 371.1L857.8 370.0L858.7 368.8L859.5 367.6L860.2 366.5L860.7 365.4L861.0 364.3L861.0 363.2L860.8 362.2Z" fill="#5fa5dc"/>
<path d="M863.7 374.5L863.6 375.1L863.4 375.8L862.9 376.6L862.4 377.4L861.6 378.4L860.7 379.4L859.8 380.4L858.8 381.5L857.8 382.6L856.9 383.8L856.1 384.9L855.4 386.0L854.9 387.1L854.6 388.2L854.6 389.2L854.9 390.2L856.0 389.7L856.0 389.2L856.2 388.6L856.5 387.8L857.1 387.0L857.8 386.1L858.6 385.2L859.6 384.1L860.5 383.1L861.5 381.9L862.5 380.8L863.3 379.7L864.0 378.5L864.6 377.4L865.0 376.3L865.1 375.2L864.9 374.2Z" fill="#5fa5dc"/>
<path d="M867.3 386.5L867.3 387.1L867.0 387.8L866.6 388.5L865.9 389.4L865.2 390.3L864.3 391.3L863.3 392.4L862.2 393.5L861.2 394.6L860.2 395.7L859.4 396.8L858.7 397.9L858.1 399.0L857.8 400.1L857.8 401.1L858.0 401.7L859.2 401.4L859.2 401.0L859.4 400.4L859.7 399.7L860.3 399.0L861.0 398.1L861.9 397.1L862.9 396.1L863.9 395.0L864.9 393.9L865.9 392.8L866.8 391.7L867.6 390.5L868.2 389.4L868.6 388.3L868.7 387.2L868.5 386.2Z" fill="#5fa5dc"/>
<path d="M870.6 398.5L870.5 399.1L870.3 399.8L869.9 400.6L869.2 401.4L868.4 402.3L867.5 403.3L866.4 404.3L865.4 405.4L864.3 406.5L863.3 407.6L862.4 408.7L861.6 409.8L861.0 410.9L860.7 412.0L860.7 413.0L860.8 413.7L862.0 413.4L862.0 413.0L862.2 412.4L862.6 411.7L863.2 410.9L863.9 410.0L864.9 409.1L865.9 408.1L867.0 407.0L868.1 405.9L869.1 404.8L870.0 403.7L870.8 402.6L871.5 401.4L871.8 400.3L872.0 399.2L871.8 398.2Z" fill="#5fa5dc"/>
<path d="M873.5 410.8L873.4 411.4L873.1 412.1L872.6 412.9L872.0 413.7L871.1 414.6L870.1 415.6L869.0 416.6L867.8 417.7L866.7 418.7L865.7 419.8L864.8 420.9L864.0 422.0L863.5 423.1L863.2 424.2L863.2 425.3L863.3 425.6L864.5 425.3L864.5 425.1L864.6 424.5L865.0 423.9L865.6 423.1L866.3 422.3L867.2 421.3L868.3 420.4L869.4 419.3L870.6 418.3L871.7 417.2L872.7 416.1L873.5 414.9L874.2 413.8L874.7 412.7L874.9 411.6L874.7 410.6Z" fill="#5fa5dc"/>
<path d="M876.1 423.1L876.0 423.7L875.7 424.4L875.1 425.2L874.4 426.0L873.5 426.9L872.4 427.9L871.3 428.9L870.1 429.9L868.9 431.0L867.8 432.1L866.9 433.2L866.1 434.3L865.6 435.4L865.4 436.5L865.5 437.5L865.5 437.8L866.7 437.5L866.7 437.3L866.8 436.7L867.1 436.1L867.7 435.3L868.4 434.5L869.4 433.6L870.4 432.6L871.6 431.6L872.8 430.6L873.9 429.5L875.0 428.4L875.9 427.3L876.7 426.2L877.2 425.1L877.4 423.9L877.3 422.9Z" fill="#5fa5dc"/>
<path d="M878.3 435.6L878.1 436.2L877.7 436.9L877.1 437.7L876.3 438.6L875.3 439.5L874.1 440.4L872.9 441.5L871.7 442.5L870.5 443.6L869.4 444.6L868.5 445.7L867.8 446.8L867.3 447.9L867.2 449.0L867.3 449.7L868.5 449.5L868.5 449.1L868.8 448.5L869.3 447.8L870.0 447.0L870.9 446.1L872.0 445.2L873.2 444.2L874.4 443.2L875.6 442.2L876.8 441.1L877.8 440.0L878.6 438.9L879.2 437.7L879.5 436.6L879.5 435.5Z" fill="#5fa5dc"/>
<path d="M880.2 447.9L880.0 448.5L879.6 449.2L879.0 450.0L878.2 450.8L877.2 451.7L876.0 452.7L874.7 453.6L873.5 454.7L872.2 455.7L871.1 456.8L870.8 457.1L872.2 458.6L872.5 458.3L873.7 457.4L874.9 456.5L876.2 455.4L877.4 454.4L878.6 453.3L879.7 452.2L880.5 451.1L881.1 450.0L881.4 448.9L881.4 447.8Z" fill="#5fa5dc"/>
<path d="M843.8 338.1L845.1 338.1L846.3 338.2L847.3 338.3L848.2 338.4L849.0 338.5L849.6 338.7L850.1 339.0L850.2 339.2L851.4 338.7L851.3 338.4L851.0 337.5L850.3 336.5L849.4 335.8L848.3 335.1L847.1 334.6L845.8 334.2L844.4 333.9Z" fill="#2b7cc0"/>
<path d="M838.3 344.5L838.7 345.5L839.4 346.3L840.3 347.1L841.4 347.7L842.6 348.2L843.9 348.6L845.3 348.9L846.7 349.2L848.1 349.4L849.4 349.5L850.7 349.6L851.8 349.8L852.8 349.9L853.6 350.0L854.3 350.2L854.8 350.4L855.1 350.7L856.3 350.3L856.1 349.7L855.7 348.7L854.9 347.8L854.0 347.0L852.8 346.4L851.5 345.9L850.2 345.5L848.8 345.2L847.3 344.9L845.9 344.8L844.6 344.6L843.4 344.5L842.3 344.4L841.4 344.4L840.7 344.3L840.0 344.1L839.5 343.9Z" fill="#2b7cc0"/>
<path d="M843.0 355.6L843.3 356.6L844.0 357.5L844.8 358.3L845.9 359.0L847.1 359.5L848.5 360.0L849.8 360.4L851.3 360.7L852.7 360.9L854.0 361.1L855.3 361.3L856.4 361.4L857.3 361.6L858.2 361.8L858.8 362.0L859.4 362.2L859.5 362.6L860.9 362.2L860.7 361.6L860.3 360.6L859.6 359.6L858.7 358.8L857.5 358.1L856.3 357.6L854.9 357.1L853.5 356.7L852.0 356.4L850.6 356.2L849.3 356.0L848.1 355.9L847.0 355.8L846.1 355.6L845.3 355.5L844.7 355.3L844.2 355.1Z" fill="#2b7cc0"/>
<path d="M847.4 367.1L847.7 368.1L848.3 369.0L849.2 369.8L850.3 370.5L851.6 371.1L852.9 371.6L854.3 372.0L855.7 372.4L857.1 372.7L858.5 372.9L859.7 373.1L860.8 373.3L861.7 373.5L862.5 373.7L863.1 373.9L863.6 374.3L863.6 374.5L864.9 374.2L864.8 373.9L864.6 372.9L864.0 371.9L863.2 371.0L862.1 370.2L860.9 369.5L859.5 369.0L858.1 368.5L856.7 368.2L855.2 367.9L853.9 367.7L852.6 367.5L851.5 367.3L850.6 367.1L849.8 367.0L849.1 366.8L848.6 366.5Z" fill="#2b7cc0"/>
<path d="M851.3 378.6L851.6 379.6L852.2 380.6L853.1 381.5L854.2 382.2L855.4 382.8L856.8 383.4L858.2 383.8L859.7 384.2L861.1 384.5L862.4 384.8L863.6 385.1L864.7 385.3L865.6 385.5L866.3 385.8L866.9 386.1L867.3 386.5L868.6 386.2L868.4 385.2L867.9 384.1L867.1 383.2L866.1 382.3L864.9 381.6L863.6 381.0L862.2 380.5L860.7 380.1L859.3 379.7L857.9 379.4L856.6 379.2L855.5 379.0L854.5 378.8L853.7 378.6L853.1 378.4L852.5 378.1Z" fill="#2b7cc0"/>
<path d="M854.8 390.2L855.1 391.2L855.6 392.2L856.5 393.1L857.6 393.9L858.8 394.6L860.2 395.2L861.6 395.7L863.1 396.1L864.5 396.5L865.8 396.8L867.0 397.1L868.1 397.4L869.0 397.7L869.7 397.9L870.3 398.2L870.6 398.5L871.8 398.2L871.7 397.5L871.3 396.4L870.6 395.4L869.6 394.5L868.5 393.7L867.1 393.1L865.7 392.5L864.3 392.0L862.8 391.6L861.4 391.3L860.1 391.0L859.0 390.7L858.0 390.5L857.2 390.3L856.6 390.0L856.1 389.7Z" fill="#2b7cc0"/>
<path d="M858.0 401.7L858.1 402.8L858.7 403.9L859.5 404.8L860.5 405.7L861.7 406.4L863.1 407.1L864.5 407.6L866.0 408.1L867.4 408.6L868.8 408.9L870.0 409.3L871.1 409.6L871.9 409.9L872.7 410.1L873.2 410.5L873.5 410.8L874.7 410.6L874.7 409.9L874.3 408.7L873.6 407.7L872.7 406.7L871.5 405.9L870.2 405.2L868.8 404.6L867.3 404.0L865.8 403.6L864.5 403.2L863.2 402.9L862.0 402.6L861.1 402.3L860.3 402.1L859.7 401.8L859.2 401.4Z" fill="#2b7cc0"/>
<path d="M860.8 413.7L861.0 414.8L861.5 415.8L862.3 416.8L863.4 417.7L864.6 418.5L866.0 419.2L867.4 419.8L868.9 420.3L870.3 420.8L871.7 421.2L872.9 421.6L873.9 421.9L874.7 422.2L875.4 422.5L876.0 422.9L876.1 423.1L877.3 422.9L877.3 422.5L877.1 421.4L876.5 420.3L875.6 419.3L874.5 418.4L873.2 417.6L871.8 416.9L870.3 416.3L868.9 415.8L867.5 415.3L866.1 414.9L865.0 414.6L864.0 414.3L863.2 414.0L862.5 413.7L862.0 413.4Z" fill="#2b7cc0"/>
<path d="M863.3 425.6L863.4 426.7L863.9 427.8L864.7 428.8L865.8 429.8L867.1 430.6L868.4 431.3L869.9 432.0L871.4 432.5L872.8 433.0L874.1 433.5L875.3 433.9L876.3 434.2L877.1 434.6L877.8 434.9L878.3 435.4L878.2 435.6L879.6 435.5L879.5 435.2L879.4 434.0L878.9 432.9L878.1 431.8L877.0 430.8L875.8 430.0L874.4 429.2L872.9 428.6L871.4 428.0L870.0 427.5L868.7 427.1L867.5 426.7L866.5 426.4L865.7 426.0L865.0 425.7L864.5 425.3Z" fill="#2b7cc0"/>
<path d="M865.4 437.9L865.6 439.0L866.2 440.1L867.1 441.2L868.2 442.1L869.5 443.0L870.9 443.7L872.4 444.4L873.8 445.0L875.3 445.5L876.5 446.0L877.7 446.4L878.6 446.8L879.3 447.1L879.9 447.5L880.2 447.9L881.4 447.8L881.4 447.0L881.1 445.8L880.5 444.7L879.5 443.6L878.3 442.7L877.0 441.8L875.5 441.1L874.0 440.4L872.6 439.9L871.2 439.4L869.9 438.9L868.9 438.6L868.0 438.2L867.3 437.9L866.8 437.5Z" fill="#2b7cc0"/>
<path d="M867.3 449.7L867.4 450.9L867.9 452.1L868.7 453.2L869.8 454.2L871.1 455.1L872.5 455.9L873.9 456.6L875.4 457.2L876.8 457.8L878.1 458.3L878.6 458.5L880.4 455.3L880.0 455.0L878.6 454.1L877.2 453.4L875.7 452.7L874.2 452.1L872.8 451.5L871.6 451.1L870.5 450.7L869.7 450.3L869.0 450.0L868.5 449.5Z" fill="#2b7cc0"/>
<text x="869.3" y="299.3" font-size="24" fill="#000" stroke="#000" stroke-width="0.5" stroke-linejoin="round">受体菌</text>
<text x="1089" y="362.3" font-size="24" fill="#000" stroke="#000" stroke-width="0.5" stroke-linejoin="round">供体菌</text>
<text x="679.3" y="502.3" font-size="24" fill="#000" stroke="#000" stroke-width="0.5" stroke-linejoin="round">噬菌体</text>
<text x="604.3" y="100.2" font-size="24" fill="#000" stroke="#000" stroke-width="0.5" stroke-linejoin="round">质粒</text>
<rect x="771.0" y="165.0" width="84.0" height="42.5" fill="#fbe1c2"/>
<text x="789.4" y="195.34" font-size="23.6" fill="#000" stroke="#000" stroke-width="0.5" stroke-linejoin="round">接合</text>
<rect x="588.5" y="547.0" width="84.0" height="43.0" fill="#fbe1c2"/>
<text x="606.9" y="577.59" font-size="23.6" fill="#000" stroke="#000" stroke-width="0.5" stroke-linejoin="round">转导</text>
<rect x="955.0" y="547.0" width="84.0" height="43.0" fill="#fbe1c2"/>
<text x="973.4" y="577.59" font-size="23.6" fill="#000" stroke="#000" stroke-width="0.5" stroke-linejoin="round">转化</text>
<path d="M569.0 212.0C567.6 212.6 563.0 214.9 560.6 215.7C558.2 216.5 556.9 217.0 554.7 216.8C552.5 216.6 549.4 215.7 547.2 214.6C545.0 213.5 544.3 212.6 541.3 210.1C538.3 207.6 532.9 202.2 529.4 199.7C525.9 197.2 523.7 196.2 520.5 195.2C517.3 194.2 513.6 193.4 510.1 193.5C506.6 193.6 502.9 194.1 499.7 195.5C496.5 196.9 493.5 199.2 490.8 201.9C488.1 204.6 485.1 208.2 483.4 211.6C481.7 214.9 480.6 218.3 480.4 222.0C480.1 225.7 480.9 230.4 481.9 233.9C482.9 237.4 484.1 240.0 486.3 242.8C488.5 245.6 491.7 248.9 495.2 250.9C498.7 252.9 503.6 254.8 507.1 255.0C510.6 255.2 513.5 253.7 516.0 252.4C518.5 251.1 520.3 249.2 522.0 247.2C523.7 245.2 525.4 242.7 526.4 240.5C527.4 238.3 527.9 235.0 528.2 233.9" fill="none" stroke="#0d0d0d" stroke-width="2.4" stroke-linecap="round" stroke-linejoin="round"/>
<path d="M940.0 84.8C942.2 84.6 949.4 83.5 953.4 83.5C957.4 83.5 961.0 83.7 964.1 84.8C967.2 85.9 969.5 88.0 972.2 90.2C974.9 92.4 977.3 96.0 980.2 98.2C983.1 100.4 985.9 102.5 989.5 103.6C993.1 104.7 997.6 105.1 1001.6 104.9C1005.6 104.7 1010.0 104.0 1013.6 102.2C1017.2 100.4 1020.4 97.3 1023.0 94.2C1025.6 91.1 1027.7 87.3 1029.0 83.5C1030.3 79.7 1031.1 75.5 1031.0 71.5C1030.9 67.5 1030.1 63.0 1028.3 59.4C1026.5 55.8 1023.2 52.3 1020.3 50.1C1017.4 47.9 1014.2 46.8 1010.9 46.0C1007.5 45.2 1003.5 44.7 1000.2 45.4C996.9 46.1 993.4 48.2 990.9 50.1C988.4 52.0 986.8 54.0 985.5 56.7C984.2 59.4 983.3 64.5 982.9 66.1" fill="none" stroke="#0d0d0d" stroke-width="2.4" stroke-linecap="round" stroke-linejoin="round"/>
<path d="M595.0 198.0Q663.0 187.5 705.0 133.0" fill="none" stroke="#561d32" stroke-width="63.0" stroke-linecap="round" stroke-linejoin="round"/>
<path d="M705.0 134.0L743.7 112.4" fill="none" stroke="#561d32" stroke-width="24.5" stroke-linecap="butt" stroke-linejoin="round"/>
<path d="M705.0 134.0L728.4 121.0" fill="none" stroke="#561d32" stroke-width="33.3" stroke-linecap="butt" stroke-linejoin="round"/>
<path d="M705.0 134.0L729.0 120.6" fill="none" stroke="#561d32" stroke-width="31.6" stroke-linecap="butt" stroke-linejoin="round"/>
<path d="M705.0 134.0L729.6 120.3" fill="none" stroke="#561d32" stroke-width="30.2" stroke-linecap="butt" stroke-linejoin="round"/>
<path d="M705.0 134.0L730.2 119.9" fill="none" stroke="#561d32" stroke-width="29.1" stroke-linecap="butt" stroke-linejoin="round"/>
<path d="M705.0 134.0L730.8 119.6" fill="none" stroke="#561d32" stroke-width="28.1" stroke-linecap="butt" stroke-linejoin="round"/>
<path d="M705.0 134.0L731.4 119.3" fill="none" stroke="#561d32" stroke-width="27.2" stroke-linecap="butt" stroke-linejoin="round"/>
<path d="M705.0 134.0L732.0 118.9" fill="none" stroke="#561d32" stroke-width="26.5" stroke-linecap="butt" stroke-linejoin="round"/>
<path d="M705.0 134.0L732.7 118.6" fill="none" stroke="#561d32" stroke-width="25.9" stroke-linecap="butt" stroke-linejoin="round"/>
<path d="M705.0 134.0L733.3 118.2" fill="none" stroke="#561d32" stroke-width="25.5" stroke-linecap="butt" stroke-linejoin="round"/>
<path d="M705.0 134.0L733.9 117.9" fill="none" stroke="#561d32" stroke-width="25.1" stroke-linecap="butt" stroke-linejoin="round"/>
<path d="M705.0 134.0L734.5 117.6" fill="none" stroke="#561d32" stroke-width="24.8" stroke-linecap="butt" stroke-linejoin="round"/>
<path d="M705.0 134.0L735.1 117.2" fill="none" stroke="#561d32" stroke-width="24.6" stroke-linecap="butt" stroke-linejoin="round"/>
<path d="M705.0 134.0L735.7 116.9" fill="none" stroke="#561d32" stroke-width="24.5" stroke-linecap="butt" stroke-linejoin="round"/>
<path d="M778.0 101.0Q846.0 71.0 913.0 85.0" fill="none" stroke="#174f80" stroke-width="60.0" stroke-linecap="round" stroke-linejoin="round"/>
<path d="M778.0 102.0L742.3 113.2" fill="none" stroke="#174f80" stroke-width="24.5" stroke-linecap="butt" stroke-linejoin="round"/>
<path d="M778.0 102.0L754.0 109.5" fill="none" stroke="#174f80" stroke-width="32.9" stroke-linecap="butt" stroke-linejoin="round"/>
<path d="M778.0 102.0L753.4 109.7" fill="none" stroke="#174f80" stroke-width="31.3" stroke-linecap="butt" stroke-linejoin="round"/>
<path d="M778.0 102.0L752.7 109.9" fill="none" stroke="#174f80" stroke-width="30.0" stroke-linecap="butt" stroke-linejoin="round"/>
<path d="M778.0 102.0L752.0 110.1" fill="none" stroke="#174f80" stroke-width="28.8" stroke-linecap="butt" stroke-linejoin="round"/>
<path d="M778.0 102.0L751.4 110.4" fill="none" stroke="#174f80" stroke-width="27.9" stroke-linecap="butt" stroke-linejoin="round"/>
<path d="M778.0 102.0L750.7 110.6" fill="none" stroke="#174f80" stroke-width="27.1" stroke-linecap="butt" stroke-linejoin="round"/>
<path d="M778.0 102.0L750.0 110.8" fill="none" stroke="#174f80" stroke-width="26.4" stroke-linecap="butt" stroke-linejoin="round"/>
<path d="M778.0 102.0L749.4 111.0" fill="none" stroke="#174f80" stroke-width="25.8" stroke-linecap="butt" stroke-linejoin="round"/>
<path d="M778.0 102.0L748.7 111.2" fill="none" stroke="#174f80" stroke-width="25.4" stroke-linecap="butt" stroke-linejoin="round"/>
<path d="M778.0 102.0L748.0 111.4" fill="none" stroke="#174f80" stroke-width="25.0" stroke-linecap="butt" stroke-linejoin="round"/>
<path d="M778.0 102.0L747.4 111.6" fill="none" stroke="#174f80" stroke-width="24.8" stroke-linecap="butt" stroke-linejoin="round"/>
<path d="M778.0 102.0L746.7 111.8" fill="none" stroke="#174f80" stroke-width="24.6" stroke-linecap="butt" stroke-linejoin="round"/>
<path d="M778.0 102.0L746.0 112.0" fill="none" stroke="#174f80" stroke-width="24.5" stroke-linecap="butt" stroke-linejoin="round"/>
<path d="M595.0 198.0Q663.0 187.5 705.0 133.0" fill="none" stroke="#973857" stroke-width="59.7" stroke-linecap="round" stroke-linejoin="round"/>
<path d="M705.0 134.0L743.7 112.4" fill="none" stroke="#973857" stroke-width="21.2" stroke-linecap="butt" stroke-linejoin="round"/>
<path d="M705.0 134.0L728.4 121.0" fill="none" stroke="#973857" stroke-width="30.0" stroke-linecap="butt" stroke-linejoin="round"/>
<path d="M705.0 134.0L729.0 120.6" fill="none" stroke="#973857" stroke-width="28.3" stroke-linecap="butt" stroke-linejoin="round"/>
<path d="M705.0 134.0L729.6 120.3" fill="none" stroke="#973857" stroke-width="26.9" stroke-linecap="butt" stroke-linejoin="round"/>
<path d="M705.0 134.0L730.2 119.9" fill="none" stroke="#973857" stroke-width="25.8" stroke-linecap="butt" stroke-linejoin="round"/>
<path d="M705.0 134.0L730.8 119.6" fill="none" stroke="#973857" stroke-width="24.8" stroke-linecap="butt" stroke-linejoin="round"/>
<path d="M705.0 134.0L731.4 119.3" fill="none" stroke="#973857" stroke-width="23.9" stroke-linecap="butt" stroke-linejoin="round"/>
<path d="M705.0 134.0L732.0 118.9" fill="none" stroke="#973857" stroke-width="23.2" stroke-linecap="butt" stroke-linejoin="round"/>
<path d="M705.0 134.0L732.7 118.6" fill="none" stroke="#973857" stroke-width="22.6" stroke-linecap="butt" stroke-linejoin="round"/>
<path d="M705.0 134.0L733.3 118.2" fill="none" stroke="#973857" stroke-width="22.2" stroke-linecap="butt" stroke-linejoin="round"/>
<path d="M705.0 134.0L733.9 117.9" fill="none" stroke="#973857" stroke-width="21.8" stroke-linecap="butt" stroke-linejoin="round"/>
<path d="M705.0 134.0L734.5 117.6" fill="none" stroke="#973857" stroke-width="21.5" stroke-linecap="butt" stroke-linejoin="round"/>
<path d="M705.0 134.0L735.1 117.2" fill="none" stroke="#973857" stroke-width="21.3" stroke-linecap="butt" stroke-linejoin="round"/>
<path d="M705.0 134.0L735.7 116.9" fill="none" stroke="#973857" stroke-width="21.2" stroke-linecap="butt" stroke-linejoin="round"/>
<path d="M778.0 101.0Q846.0 71.0 913.0 85.0" fill="none" stroke="#2c80c4" stroke-width="57.0" stroke-linecap="round" stroke-linejoin="round"/>
<path d="M778.0 102.0L742.3 113.2" fill="none" stroke="#2c80c4" stroke-width="21.5" stroke-linecap="butt" stroke-linejoin="round"/>
<path d="M778.0 102.0L754.0 109.5" fill="none" stroke="#2c80c4" stroke-width="29.9" stroke-linecap="butt" stroke-linejoin="round"/>
<path d="M778.0 102.0L753.4 109.7" fill="none" stroke="#2c80c4" stroke-width="28.3" stroke-linecap="butt" stroke-linejoin="round"/>
<path d="M778.0 102.0L752.7 109.9" fill="none" stroke="#2c80c4" stroke-width="27.0" stroke-linecap="butt" stroke-linejoin="round"/>
<path d="M778.0 102.0L752.0 110.1" fill="none" stroke="#2c80c4" stroke-width="25.8" stroke-linecap="butt" stroke-linejoin="round"/>
<path d="M778.0 102.0L751.4 110.4" fill="none" stroke="#2c80c4" stroke-width="24.9" stroke-linecap="butt" stroke-linejoin="round"/>
<path d="M778.0 102.0L750.7 110.6" fill="none" stroke="#2c80c4" stroke-width="24.1" stroke-linecap="butt" stroke-linejoin="round"/>
<path d="M778.0 102.0L750.0 110.8" fill="none" stroke="#2c80c4" stroke-width="23.4" stroke-linecap="butt" stroke-linejoin="round"/>
<path d="M778.0 102.0L749.4 111.0" fill="none" stroke="#2c80c4" stroke-width="22.8" stroke-linecap="butt" stroke-linejoin="round"/>
<path d="M778.0 102.0L748.7 111.2" fill="none" stroke="#2c80c4" stroke-width="22.4" stroke-linecap="butt" stroke-linejoin="round"/>
<path d="M778.0 102.0L748.0 111.4" fill="none" stroke="#2c80c4" stroke-width="22.0" stroke-linecap="butt" stroke-linejoin="round"/>
<path d="M778.0 102.0L747.4 111.6" fill="none" stroke="#2c80c4" stroke-width="21.8" stroke-linecap="butt" stroke-linejoin="round"/>
<path d="M778.0 102.0L746.7 111.8" fill="none" stroke="#2c80c4" stroke-width="21.6" stroke-linecap="butt" stroke-linejoin="round"/>
<path d="M778.0 102.0L746.0 112.0" fill="none" stroke="#2c80c4" stroke-width="21.5" stroke-linecap="butt" stroke-linejoin="round"/>
<path d="M595.0 198.0Q663.0 187.5 705.0 133.0" fill="none" stroke="#5f2239" stroke-width="54.2" stroke-linecap="round" stroke-linejoin="round"/>
<path d="M705.0 134.0L743.7 112.4" fill="none" stroke="#5f2239" stroke-width="15.7" stroke-linecap="butt" stroke-linejoin="round"/>
<path d="M705.0 134.0L728.4 121.0" fill="none" stroke="#5f2239" stroke-width="24.5" stroke-linecap="butt" stroke-linejoin="round"/>
<path d="M705.0 134.0L729.0 120.6" fill="none" stroke="#5f2239" stroke-width="22.8" stroke-linecap="butt" stroke-linejoin="round"/>
<path d="M705.0 134.0L729.6 120.3" fill="none" stroke="#5f2239" stroke-width="21.4" stroke-linecap="butt" stroke-linejoin="round"/>
<path d="M705.0 134.0L730.2 119.9" fill="none" stroke="#5f2239" stroke-width="20.3" stroke-linecap="butt" stroke-linejoin="round"/>
<path d="M705.0 134.0L730.8 119.6" fill="none" stroke="#5f2239" stroke-width="19.3" stroke-linecap="butt" stroke-linejoin="round"/>
<path d="M705.0 134.0L731.4 119.3" fill="none" stroke="#5f2239" stroke-width="18.4" stroke-linecap="butt" stroke-linejoin="round"/>
<path d="M705.0 134.0L732.0 118.9" fill="none" stroke="#5f2239" stroke-width="17.7" stroke-linecap="butt" stroke-linejoin="round"/>
<path d="M705.0 134.0L732.7 118.6" fill="none" stroke="#5f2239" stroke-width="17.1" stroke-linecap="butt" stroke-linejoin="round"/>
<path d="M705.0 134.0L733.3 118.2" fill="none" stroke="#5f2239" stroke-width="16.7" stroke-linecap="butt" stroke-linejoin="round"/>
<path d="M705.0 134.0L733.9 117.9" fill="none" stroke="#5f2239" stroke-width="16.3" stroke-linecap="butt" stroke-linejoin="round"/>
<path d="M705.0 134.0L734.5 117.6" fill="none" stroke="#5f2239" stroke-width="16.0" stroke-linecap="butt" stroke-linejoin="round"/>
<path d="M705.0 134.0L735.1 117.2" fill="none" stroke="#5f2239" stroke-width="15.8" stroke-linecap="butt" stroke-linejoin="round"/>
<path d="M705.0 134.0L735.7 116.9" fill="none" stroke="#5f2239" stroke-width="15.7" stroke-linecap="butt" stroke-linejoin="round"/>
<path d="M778.0 101.0Q846.0 71.0 913.0 85.0" fill="none" stroke="#1a5587" stroke-width="52.0" stroke-linecap="round" stroke-linejoin="round"/>
<path d="M778.0 102.0L742.3 113.2" fill="none" stroke="#1a5587" stroke-width="16.5" stroke-linecap="butt" stroke-linejoin="round"/>
<path d="M778.0 102.0L754.0 109.5" fill="none" stroke="#1a5587" stroke-width="24.9" stroke-linecap="butt" stroke-linejoin="round"/>
<path d="M778.0 102.0L753.4 109.7" fill="none" stroke="#1a5587" stroke-width="23.3" stroke-linecap="butt" stroke-linejoin="round"/>
<path d="M778.0 102.0L752.7 109.9" fill="none" stroke="#1a5587" stroke-width="22.0" stroke-linecap="butt" stroke-linejoin="round"/>
<path d="M778.0 102.0L752.0 110.1" fill="none" stroke="#1a5587" stroke-width="20.8" stroke-linecap="butt" stroke-linejoin="round"/>
<path d="M778.0 102.0L751.4 110.4" fill="none" stroke="#1a5587" stroke-width="19.9" stroke-linecap="butt" stroke-linejoin="round"/>
<path d="M778.0 102.0L750.7 110.6" fill="none" stroke="#1a5587" stroke-width="19.1" stroke-linecap="butt" stroke-linejoin="round"/>
<path d="M778.0 102.0L750.0 110.8" fill="none" stroke="#1a5587" stroke-width="18.4" stroke-linecap="butt" stroke-linejoin="round"/>
<path d="M778.0 102.0L749.4 111.0" fill="none" stroke="#1a5587" stroke-width="17.8" stroke-linecap="butt" stroke-linejoin="round"/>
<path d="M778.0 102.0L748.7 111.2" fill="none" stroke="#1a5587" stroke-width="17.4" stroke-linecap="butt" stroke-linejoin="round"/>
<path d="M778.0 102.0L748.0 111.4" fill="none" stroke="#1a5587" stroke-width="17.0" stroke-linecap="butt" stroke-linejoin="round"/>
<path d="M778.0 102.0L747.4 111.6" fill="none" stroke="#1a5587" stroke-width="16.8" stroke-linecap="butt" stroke-linejoin="round"/>
<path d="M778.0 102.0L746.7 111.8" fill="none" stroke="#1a5587" stroke-width="16.6" stroke-linecap="butt" stroke-linejoin="round"/>
<path d="M778.0 102.0L746.0 112.0" fill="none" stroke="#1a5587" stroke-width="16.5" stroke-linecap="butt" stroke-linejoin="round"/>
<path d="M595.0 198.0Q663.0 187.5 705.0 133.0" fill="none" stroke="#dbb0bb" stroke-width="50.9" stroke-linecap="round" stroke-linejoin="round"/>
<path d="M705.0 134.0L743.7 112.4" fill="none" stroke="#dbb0bb" stroke-width="12.4" stroke-linecap="butt" stroke-linejoin="round"/>
<path d="M705.0 134.0L728.4 121.0" fill="none" stroke="#dbb0bb" stroke-width="21.2" stroke-linecap="butt" stroke-linejoin="round"/>
<path d="M705.0 134.0L729.0 120.6" fill="none" stroke="#dbb0bb" stroke-width="19.5" stroke-linecap="butt" stroke-linejoin="round"/>
<path d="M705.0 134.0L729.6 120.3" fill="none" stroke="#dbb0bb" stroke-width="18.1" stroke-linecap="butt" stroke-linejoin="round"/>
<path d="M705.0 134.0L730.2 119.9" fill="none" stroke="#dbb0bb" stroke-width="17.0" stroke-linecap="butt" stroke-linejoin="round"/>
<path d="M705.0 134.0L730.8 119.6" fill="none" stroke="#dbb0bb" stroke-width="16.0" stroke-linecap="butt" stroke-linejoin="round"/>
<path d="M705.0 134.0L731.4 119.3" fill="none" stroke="#dbb0bb" stroke-width="15.1" stroke-linecap="butt" stroke-linejoin="round"/>
<path d="M705.0 134.0L732.0 118.9" fill="none" stroke="#dbb0bb" stroke-width="14.4" stroke-linecap="butt" stroke-linejoin="round"/>
<path d="M705.0 134.0L732.7 118.6" fill="none" stroke="#dbb0bb" stroke-width="13.8" stroke-linecap="butt" stroke-linejoin="round"/>
<path d="M705.0 134.0L733.3 118.2" fill="none" stroke="#dbb0bb" stroke-width="13.4" stroke-linecap="butt" stroke-linejoin="round"/>
<path d="M705.0 134.0L733.9 117.9" fill="none" stroke="#dbb0bb" stroke-width="13.0" stroke-linecap="butt" stroke-linejoin="round"/>
<path d="M705.0 134.0L734.5 117.6" fill="none" stroke="#dbb0bb" stroke-width="12.7" stroke-linecap="butt" stroke-linejoin="round"/>
<path d="M705.0 134.0L735.1 117.2" fill="none" stroke="#dbb0bb" stroke-width="12.5" stroke-linecap="butt" stroke-linejoin="round"/>
<path d="M705.0 134.0L735.7 116.9" fill="none" stroke="#dbb0bb" stroke-width="12.4" stroke-linecap="butt" stroke-linejoin="round"/>
<path d="M778.0 101.0Q846.0 71.0 913.0 85.0" fill="none" stroke="#bcd3ee" stroke-width="49.0" stroke-linecap="round" stroke-linejoin="round"/>
<path d="M778.0 102.0L742.3 113.2" fill="none" stroke="#bcd3ee" stroke-width="13.5" stroke-linecap="butt" stroke-linejoin="round"/>
<path d="M778.0 102.0L754.0 109.5" fill="none" stroke="#bcd3ee" stroke-width="21.9" stroke-linecap="butt" stroke-linejoin="round"/>
<path d="M778.0 102.0L753.4 109.7" fill="none" stroke="#bcd3ee" stroke-width="20.3" stroke-linecap="butt" stroke-linejoin="round"/>
<path d="M778.0 102.0L752.7 109.9" fill="none" stroke="#bcd3ee" stroke-width="19.0" stroke-linecap="butt" stroke-linejoin="round"/>
<path d="M778.0 102.0L752.0 110.1" fill="none" stroke="#bcd3ee" stroke-width="17.8" stroke-linecap="butt" stroke-linejoin="round"/>
<path d="M778.0 102.0L751.4 110.4" fill="none" stroke="#bcd3ee" stroke-width="16.9" stroke-linecap="butt" stroke-linejoin="round"/>
<path d="M778.0 102.0L750.7 110.6" fill="none" stroke="#bcd3ee" stroke-width="16.1" stroke-linecap="butt" stroke-linejoin="round"/>
<path d="M778.0 102.0L750.0 110.8" fill="none" stroke="#bcd3ee" stroke-width="15.4" stroke-linecap="butt" stroke-linejoin="round"/>
<path d="M778.0 102.0L749.4 111.0" fill="none" stroke="#bcd3ee" stroke-width="14.8" stroke-linecap="butt" stroke-linejoin="round"/>
<path d="M778.0 102.0L748.7 111.2" fill="none" stroke="#bcd3ee" stroke-width="14.4" stroke-linecap="butt" stroke-linejoin="round"/>
<path d="M778.0 102.0L748.0 111.4" fill="none" stroke="#bcd3ee" stroke-width="14.0" stroke-linecap="butt" stroke-linejoin="round"/>
<path d="M778.0 102.0L747.4 111.6" fill="none" stroke="#bcd3ee" stroke-width="13.8" stroke-linecap="butt" stroke-linejoin="round"/>
<path d="M778.0 102.0L746.7 111.8" fill="none" stroke="#bcd3ee" stroke-width="13.6" stroke-linecap="butt" stroke-linejoin="round"/>
<path d="M778.0 102.0L746.0 112.0" fill="none" stroke="#bcd3ee" stroke-width="13.5" stroke-linecap="butt" stroke-linejoin="round"/>
<path d="M577.1 205.7L578.0 206.9L578.9 208.0L579.9 209.1L580.8 210.0L581.8 210.9L582.8 211.5L583.9 212.0L584.9 212.3L585.9 212.3L586.2 212.2L586.0 211.0L585.8 211.0L585.2 210.8L584.5 210.5L583.8 210.0L583.1 209.4L582.3 208.6L581.5 207.6L580.6 206.6L579.8 205.5L578.9 204.3Z" fill="#5fa5dc"/>
<path d="M584.3 197.5L584.9 197.6L585.5 197.9L586.2 198.3L586.9 198.9L587.6 199.6L588.4 200.5L589.3 201.4L590.2 202.5L591.1 203.6L592.1 204.7L593.1 205.7L594.2 206.7L595.2 207.6L596.3 208.4L597.3 209.1L598.4 209.5L599.4 209.8L600.5 209.8L601.4 209.6L601.1 208.4L600.4 208.4L599.8 208.3L599.0 208.0L598.3 207.5L597.5 206.8L596.6 206.1L595.7 205.2L594.8 204.2L593.8 203.1L592.9 202.0L591.9 201.0L590.9 199.9L589.9 199.0L589.0 198.1L588.0 197.4L587.0 196.8L586.1 196.4L585.1 196.2L584.2 196.3Z" fill="#5fa5dc"/>
<path d="M598.1 195.2L598.7 195.2L599.3 195.5L600.0 195.9L600.8 196.4L601.6 197.1L602.5 197.9L603.5 198.8L604.5 199.8L605.6 200.8L606.6 201.8L607.8 202.8L608.9 203.6L610.0 204.4L611.1 205.1L612.3 205.6L613.3 205.9L614.4 206.0L615.4 205.8L616.0 205.6L615.6 204.5L615.2 204.6L614.5 204.5L613.8 204.3L613.0 203.9L612.1 203.4L611.2 202.7L610.2 201.9L609.2 201.1L608.2 200.1L607.1 199.1L606.1 198.1L605.0 197.2L603.9 196.3L602.9 195.5L601.9 194.8L600.9 194.3L599.9 194.0L598.9 193.8L598.0 193.9Z" fill="#5fa5dc"/>
<path d="M611.5 191.6L612.1 191.6L612.7 191.7L613.4 192.1L614.2 192.5L615.1 193.2L616.1 193.9L617.2 194.7L618.3 195.6L619.4 196.5L620.6 197.4L621.8 198.3L623.0 199.1L624.2 199.7L625.4 200.3L626.6 200.7L627.7 200.9L628.8 200.9L629.7 200.6L630.4 200.4L629.8 199.2L629.4 199.4L628.7 199.4L628.0 199.3L627.1 199.0L626.2 198.5L625.2 197.9L624.2 197.2L623.1 196.4L622.0 195.6L620.8 194.7L619.7 193.8L618.5 192.9L617.4 192.1L616.2 191.4L615.1 190.9L614.1 190.4L613.1 190.2L612.1 190.2L611.2 190.4Z" fill="#5fa5dc"/>
<path d="M624.5 186.8L625.1 186.7L625.8 186.9L626.6 187.2L627.5 187.6L628.5 188.1L629.5 188.8L630.7 189.6L631.9 190.4L633.1 191.2L634.4 192.0L635.7 192.7L637.0 193.4L638.3 194.0L639.5 194.4L640.7 194.6L641.8 194.6L642.9 194.4L643.8 194.0L643.2 192.9L642.6 193.1L641.9 193.1L641.0 192.9L640.1 192.6L639.1 192.1L638.0 191.5L636.8 190.8L635.6 190.0L634.4 189.2L633.1 188.4L631.9 187.7L630.6 186.9L629.4 186.3L628.3 185.8L627.1 185.5L626.1 185.3L625.1 185.3L624.2 185.6Z" fill="#5fa5dc"/>
<path d="M637.0 180.9L637.6 180.8L638.2 180.8L639.0 181.0L639.9 181.3L641.0 181.8L642.1 182.4L643.3 183.0L644.6 183.7L645.9 184.5L647.3 185.2L648.7 185.9L650.1 186.4L651.4 186.9L652.7 187.2L653.9 187.3L655.1 187.3L656.1 187.0L657.0 186.4L656.3 185.4L655.7 185.7L655.0 185.7L654.1 185.6L653.1 185.4L652.1 185.0L650.9 184.5L649.6 183.8L648.3 183.2L647.0 182.4L645.7 181.7L644.3 181.0L643.0 180.4L641.7 179.9L640.5 179.5L639.4 179.3L638.3 179.2L637.3 179.4L636.4 179.8Z" fill="#5fa5dc"/>
<path d="M649.1 173.9L649.7 173.8L650.5 173.8L651.3 174.0L652.3 174.3L653.4 174.7L654.6 175.2L656.0 175.8L657.4 176.4L658.8 177.1L660.3 177.7L661.7 178.2L663.2 178.7L664.6 179.0L665.9 179.1L667.1 179.0L668.2 178.8L669.2 178.2L669.4 178.0L668.7 177.1L668.5 177.2L667.8 177.4L667.0 177.4L666.1 177.3L665.0 177.0L663.8 176.7L662.5 176.2L661.1 175.6L659.7 175.0L658.3 174.3L656.9 173.7L655.5 173.2L654.1 172.7L652.8 172.4L651.6 172.2L650.4 172.2L649.4 172.4L648.5 172.9Z" fill="#5fa5dc"/>
<path d="M660.7 166.1L661.3 165.9L662.0 165.9L662.9 166.0L664.0 166.2L665.2 166.5L666.5 167.0L667.9 167.5L669.4 168.1L670.9 168.6L672.5 169.2L674.0 169.6L675.5 169.9L676.9 170.1L678.3 170.0L679.5 169.8L680.5 169.3L681.4 168.7L680.5 167.8L679.9 168.1L679.1 168.3L678.2 168.3L677.1 168.2L675.9 167.9L674.6 167.5L673.2 167.0L671.7 166.5L670.2 165.9L668.7 165.4L667.2 164.9L665.7 164.5L664.3 164.3L663.1 164.2L661.9 164.3L660.8 164.6L660.0 165.1Z" fill="#5fa5dc"/>
<path d="M671.8 157.4L672.4 157.2L673.2 157.1L674.2 157.2L675.3 157.4L676.6 157.7L678.1 158.1L679.6 158.6L681.2 159.1L682.8 159.5L684.5 159.9L686.0 160.2L687.6 160.3L689.0 160.3L690.3 160.1L691.4 159.6L692.3 158.9L692.5 158.7L691.6 157.8L691.5 158.0L690.8 158.3L689.9 158.5L688.9 158.5L687.8 158.4L686.4 158.1L685.0 157.7L683.4 157.3L681.8 156.8L680.2 156.4L678.6 156.0L677.1 155.6L675.6 155.4L674.3 155.3L673.0 155.5L672.0 155.8L671.1 156.4Z" fill="#5fa5dc"/>
<path d="M682.3 148.0L683.0 147.8L683.8 147.6L684.8 147.7L686.1 147.8L687.5 148.1L689.0 148.5L690.6 148.9L691.7 149.1L692.3 146.9L691.1 146.6L689.5 146.3L687.8 146.0L686.3 145.8L684.9 145.8L683.6 146.0L682.4 146.4L681.5 147.0Z" fill="#5fa5dc"/>
<path d="M579.9 206.0L580.6 204.7L581.2 203.4L581.7 202.2L582.2 201.1L582.6 200.1L583.0 199.3L583.4 198.6L583.8 198.1L584.2 197.6L584.3 197.5L584.2 196.3L583.9 196.3L582.9 196.4L581.9 196.8L580.9 197.4L580.0 198.2L579.1 199.2L578.3 200.3L577.5 201.5L576.8 202.7L576.1 204.0Z" fill="#2b7cc0"/>
<path d="M586.2 212.2L587.2 212.2L588.3 211.9L589.4 211.3L590.3 210.5L591.2 209.5L592.1 208.4L592.8 207.2L593.5 205.9L594.1 204.5L594.7 203.1L595.2 201.8L595.6 200.5L596.0 199.3L596.4 198.3L596.7 197.4L597.0 196.6L597.3 196.0L597.7 195.5L598.1 195.2L598.0 193.9L597.0 194.0L596.0 194.3L595.1 194.9L594.2 195.7L593.4 196.6L592.6 197.7L591.9 198.9L591.3 200.2L590.7 201.5L590.2 202.9L589.7 204.2L589.2 205.4L588.7 206.6L588.3 207.7L587.9 208.6L587.5 209.4L587.0 210.1L586.6 210.6L586.0 211.0Z" fill="#2b7cc0"/>
<path d="M601.4 209.6L602.5 209.4L603.5 209.0L604.5 208.3L605.3 207.3L606.1 206.2L606.9 205.0L607.5 203.7L608.0 202.3L608.5 200.9L608.9 199.5L609.2 198.1L609.6 196.8L609.8 195.6L610.1 194.6L610.3 193.7L610.6 192.9L610.8 192.3L611.2 191.8L611.5 191.6L611.2 190.3L610.5 190.5L609.6 190.8L608.7 191.4L607.8 192.2L607.1 193.2L606.4 194.3L605.8 195.6L605.3 196.9L604.8 198.2L604.4 199.6L604.0 201.0L603.6 202.3L603.3 203.5L602.9 204.7L602.6 205.7L602.3 206.5L601.9 207.3L601.5 207.9L601.1 208.3Z" fill="#2b7cc0"/>
<path d="M616.0 205.7L617.1 205.4L618.0 204.9L619.0 204.1L619.8 203.1L620.5 201.9L621.1 200.6L621.6 199.2L622.0 197.8L622.3 196.3L622.6 194.9L622.8 193.5L623.0 192.2L623.2 190.9L623.4 189.9L623.5 188.9L623.7 188.2L623.9 187.5L624.2 187.0L624.6 186.8L624.1 185.5L623.5 185.7L622.6 186.1L621.7 186.8L620.9 187.7L620.3 188.7L619.7 189.9L619.2 191.2L618.8 192.6L618.4 194.0L618.1 195.5L617.9 196.9L617.6 198.2L617.4 199.5L617.1 200.6L616.9 201.7L616.6 202.6L616.3 203.3L616.0 203.9L615.6 204.4Z" fill="#2b7cc0"/>
<path d="M630.4 200.4L631.4 200.0L632.3 199.4L633.1 198.4L633.9 197.3L634.4 196.1L634.9 194.7L635.3 193.2L635.6 191.7L635.8 190.2L635.9 188.8L636.0 187.3L636.1 186.0L636.2 184.8L636.2 183.7L636.3 182.8L636.5 182.1L636.7 181.4L637.0 180.9L636.4 179.8L635.5 180.2L634.6 180.8L633.8 181.7L633.2 182.8L632.7 184.0L632.3 185.4L632.0 186.8L631.7 188.3L631.5 189.7L631.3 191.2L631.2 192.6L631.1 193.9L630.9 195.1L630.8 196.2L630.6 197.2L630.4 198.0L630.1 198.6L629.8 199.2Z" fill="#2b7cc0"/>
<path d="M643.8 194.0L644.8 193.6L645.7 192.9L646.5 192.0L647.2 190.8L647.7 189.5L648.1 188.1L648.3 186.6L648.5 185.1L648.6 183.5L648.6 182.0L648.6 180.5L648.6 179.2L648.6 177.9L648.6 176.8L648.6 175.9L648.7 175.1L648.8 174.5L649.1 174.0L648.5 172.8L647.6 173.3L646.7 174.0L646.0 175.0L645.5 176.1L645.0 177.4L644.7 178.8L644.5 180.3L644.4 181.8L644.3 183.3L644.3 184.8L644.2 186.3L644.2 187.6L644.2 188.9L644.1 189.9L644.0 190.9L643.9 191.7L643.6 192.4L643.2 192.9Z" fill="#2b7cc0"/>
<path d="M657.0 186.5L658.0 185.9L658.9 185.1L659.6 184.0L660.1 182.8L660.5 181.4L660.8 179.9L660.9 178.3L660.9 176.7L660.8 175.1L660.7 173.5L660.6 172.1L660.5 170.7L660.4 169.5L660.3 168.5L660.3 167.6L660.3 166.9L660.5 166.3L660.7 166.1L660.0 165.1L659.7 165.3L658.8 165.9L658.0 166.8L657.4 167.9L657.0 169.2L656.7 170.6L656.6 172.1L656.5 173.7L656.6 175.3L656.6 176.8L656.7 178.3L656.8 179.7L656.9 181.0L656.9 182.2L656.9 183.2L656.8 184.0L656.6 184.8L656.3 185.4Z" fill="#2b7cc0"/>
<path d="M669.4 178.0L670.4 177.4L671.2 176.5L671.9 175.4L672.3 174.0L672.6 172.5L672.7 170.9L672.7 169.3L672.6 167.7L672.4 166.0L672.2 164.5L672.0 163.0L671.7 161.7L671.6 160.5L671.4 159.5L671.4 158.7L671.5 158.0L671.8 157.4L671.0 156.3L670.2 157.0L669.4 157.9L668.7 159.0L668.3 160.3L668.1 161.8L668.0 163.3L668.1 164.9L668.2 166.5L668.3 168.1L668.5 169.7L668.7 171.1L668.9 172.5L669.0 173.7L669.1 174.7L669.1 175.6L669.0 176.4L668.7 177.0Z" fill="#2b7cc0"/>
<path d="M681.4 168.7L682.3 167.9L683.1 166.9L683.6 165.6L683.9 164.1L684.0 162.6L684.0 160.9L683.9 159.2L683.6 157.5L683.3 155.9L682.9 154.4L682.6 152.9L682.3 151.7L682.1 150.6L682.0 149.6L682.0 148.9L682.1 148.1L682.3 148.0L681.5 147.0L681.3 147.3L680.3 148.0L679.6 149.0L679.2 150.3L678.9 151.8L678.9 153.3L678.9 155.0L679.1 156.6L679.4 158.3L679.7 159.9L680.0 161.4L680.2 162.8L680.5 164.1L680.6 165.2L680.7 166.2L680.7 167.0L680.5 167.7Z" fill="#2b7cc0"/>
<path d="M692.6 158.7L693.5 157.9L694.2 156.7L694.6 155.3L694.8 153.8L694.8 152.1L694.6 150.4L694.3 148.7L694.1 147.5L689.9 148.5L690.2 149.6L690.6 151.2L691.0 152.7L691.3 154.0L691.5 155.2L691.7 156.2L691.7 157.0L691.6 157.8Z" fill="#2b7cc0"/>
<path d="M799.4 95.0L800.3 95.6L801.3 96.2L802.2 96.9L803.2 97.4L804.1 97.9L805.0 98.4L805.9 98.7L806.8 99.0L807.6 99.1L808.4 99.1L809.2 98.9L809.6 98.7L809.1 97.6L808.8 97.6L808.4 97.6L807.8 97.5L807.3 97.3L806.6 97.0L805.9 96.6L805.1 96.2L804.3 95.6L803.5 95.0L802.5 94.4L801.6 93.7L800.6 93.0Z" fill="#5fa5dc"/>
<path d="M804.3 84.9L804.9 84.8L805.5 84.9L806.1 85.1L806.8 85.4L807.5 85.7L808.3 86.2L809.1 86.8L810.0 87.5L810.9 88.2L811.8 89.0L812.8 89.8L813.7 90.6L814.7 91.4L815.7 92.1L816.6 92.8L817.5 93.4L818.5 94.0L819.4 94.4L820.3 94.6L821.2 94.8L822.0 94.7L822.8 94.5L822.3 93.3L821.9 93.4L821.3 93.3L820.8 93.1L820.1 92.8L819.4 92.3L818.7 91.8L817.9 91.1L817.0 90.4L816.1 89.6L815.2 88.8L814.3 88.0L813.3 87.2L812.3 86.4L811.3 85.7L810.3 85.1L809.3 84.5L808.4 84.0L807.4 83.7L806.5 83.4L805.6 83.4L804.7 83.5L803.9 83.7Z" fill="#5fa5dc"/>
<path d="M818.8 80.2L819.4 80.3L820.0 80.4L820.7 80.7L821.4 81.2L822.2 81.7L823.0 82.4L823.8 83.1L824.7 84.0L825.6 84.9L826.6 85.8L827.5 86.8L828.5 87.7L829.4 88.6L830.4 89.4L831.4 90.1L832.3 90.7L833.2 91.2L834.2 91.5L835.1 91.6L836.0 91.4L836.3 91.4L835.9 90.2L835.7 90.2L835.2 90.2L834.6 90.0L834.0 89.7L833.3 89.2L832.6 88.6L831.8 87.8L830.9 87.0L830.1 86.1L829.1 85.2L828.2 84.2L827.2 83.3L826.3 82.4L825.3 81.5L824.3 80.7L823.3 80.1L822.3 79.5L821.3 79.1L820.4 78.9L819.4 78.9L818.6 79.0Z" fill="#5fa5dc"/>
<path d="M833.4 76.9L834.0 77.0L834.6 77.2L835.3 77.6L836.1 78.2L836.9 78.9L837.7 79.7L838.6 80.6L839.5 81.6L840.4 82.7L841.3 83.8L842.3 84.9L843.3 85.9L844.2 86.8L845.2 87.7L846.2 88.4L847.1 88.9L848.1 89.2L849.1 89.3L850.0 89.2L849.8 88.0L849.2 88.0L848.6 87.8L847.9 87.4L847.3 86.9L846.5 86.2L845.7 85.3L844.9 84.4L844.0 83.4L843.1 82.3L842.1 81.2L841.2 80.1L840.2 79.1L839.2 78.1L838.2 77.3L837.2 76.6L836.2 76.1L835.2 75.7L834.2 75.6L833.2 75.6Z" fill="#5fa5dc"/>
<path d="M848.1 74.6L848.7 74.7L849.4 75.0L850.1 75.5L850.9 76.2L851.7 77.0L852.5 78.0L853.4 79.1L854.3 80.3L855.2 81.5L856.2 82.7L857.1 83.9L858.1 84.9L859.1 85.9L860.1 86.7L861.1 87.4L862.1 87.7L863.2 87.9L863.8 87.8L863.7 86.6L863.3 86.6L862.6 86.3L862.0 85.9L861.3 85.3L860.5 84.5L859.7 83.5L858.9 82.5L858.0 81.3L857.1 80.1L856.1 78.9L855.1 77.7L854.1 76.6L853.1 75.6L852.1 74.7L851.1 74.0L850.1 73.6L849.0 73.3L848.0 73.3Z" fill="#5fa5dc"/>
<path d="M862.7 73.1L863.3 73.2L864.0 73.6L864.8 74.2L865.5 74.9L866.3 75.9L867.2 77.0L868.1 78.2L869.0 79.5L869.9 80.8L870.9 82.2L871.8 83.4L872.8 84.5L873.8 85.5L874.9 86.3L875.9 86.8L877.0 87.1L878.1 87.1L877.9 85.8L877.3 85.8L876.6 85.4L875.9 84.9L875.2 84.1L874.4 83.2L873.6 82.1L872.7 80.8L871.8 79.5L870.9 78.2L869.9 76.9L868.9 75.6L867.9 74.5L866.9 73.5L865.8 72.7L864.8 72.2L863.7 71.9L862.6 71.9Z" fill="#5fa5dc"/>
<path d="M877.5 72.3L878.2 72.6L878.9 73.0L879.7 73.7L880.5 74.7L881.3 75.8L882.2 77.0L883.0 78.4L884.0 79.9L884.9 81.3L885.9 82.7L886.8 83.9L887.9 85.1L888.9 85.9L890.0 86.6L891.2 86.9L891.9 86.9L891.9 85.7L891.4 85.6L890.8 85.2L890.1 84.6L889.3 83.7L888.5 82.7L887.7 81.4L886.8 80.1L885.9 78.6L885.0 77.2L884.0 75.8L883.0 74.5L882.0 73.3L880.9 72.4L879.8 71.6L878.7 71.2L877.6 71.1Z" fill="#5fa5dc"/>
<path d="M892.0 72.1L892.7 72.3L893.4 72.8L894.2 73.5L895.0 74.5L895.8 75.7L896.7 77.1L897.6 78.6L898.5 80.1L899.4 81.6L900.4 83.1L901.4 84.4L902.4 85.6L903.5 86.5L904.7 87.0L905.9 87.2L906.3 87.2L906.2 86.0L906.0 86.0L905.3 85.7L904.6 85.1L903.8 84.3L903.0 83.2L902.2 81.9L901.3 80.5L900.5 78.9L899.5 77.4L898.6 75.9L897.6 74.5L896.5 73.2L895.5 72.2L894.3 71.4L893.2 71.0L892.0 70.9Z" fill="#5fa5dc"/>
<path d="M906.8 72.5L907.5 72.8L908.3 73.4L909.0 74.2L909.8 75.4L910.7 76.7L911.6 78.2L912.4 79.8L913.4 81.5L914.3 83.1L915.3 84.6L916.4 85.9L917.5 86.9L918.6 87.6L919.9 88.0L920.3 88.0L920.4 86.8L920.1 86.7L919.4 86.3L918.6 85.6L917.9 84.6L917.1 83.4L916.2 82.0L915.4 80.4L914.5 78.7L913.5 77.1L912.5 75.5L911.5 74.1L910.4 72.9L909.3 72.0L908.1 71.4L906.9 71.2Z" fill="#5fa5dc"/>
<path d="M921.3 73.2L922.0 73.5L922.8 74.1L923.6 75.0L924.4 76.2L925.2 77.7L926.1 79.3L927.0 81.0L929.0 80.0L928.1 78.2L927.1 76.6L926.1 75.1L925.0 73.8L923.8 72.8L922.6 72.2L921.3 72.0Z" fill="#5fa5dc"/>
<path d="M802.1 94.3L802.3 93.2L802.4 92.1L802.5 91.0L802.7 90.0L802.8 89.0L803.0 88.2L803.1 87.4L803.3 86.7L803.5 86.1L803.7 85.6L804.1 85.1L804.4 84.9L803.9 83.7L803.4 83.8L802.6 84.1L801.8 84.6L801.1 85.3L800.4 86.1L799.8 87.0L799.3 88.0L798.9 89.1L798.6 90.2L798.3 91.3L798.1 92.5L797.9 93.7Z" fill="#2b7cc0"/>
<path d="M809.6 98.7L810.4 98.5L811.2 98.1L811.9 97.6L812.5 96.8L813.1 96.0L813.7 95.0L814.1 94.0L814.6 92.9L814.9 91.7L815.3 90.5L815.6 89.3L815.9 88.2L816.1 87.0L816.4 85.9L816.6 84.8L816.9 83.9L817.1 83.0L817.4 82.2L817.7 81.6L817.9 81.0L818.3 80.5L818.8 80.3L818.5 79.0L817.7 79.2L816.8 79.4L815.9 79.9L815.1 80.6L814.3 81.5L813.7 82.4L813.1 83.5L812.6 84.6L812.1 85.8L811.7 87.1L811.4 88.3L811.1 89.5L810.9 90.7L810.7 91.8L810.5 92.9L810.3 93.9L810.1 94.7L810.0 95.5L809.8 96.1L809.6 96.7L809.4 97.2L809.1 97.6Z" fill="#2b7cc0"/>
<path d="M822.8 94.5L823.7 94.3L824.5 93.9L825.3 93.3L826.1 92.5L826.8 91.6L827.4 90.6L828.0 89.5L828.5 88.3L829.0 87.0L829.4 85.8L829.8 84.5L830.2 83.3L830.6 82.1L831.0 81.0L831.3 80.1L831.6 79.2L832.0 78.5L832.3 77.8L832.7 77.3L833.2 76.9L833.4 76.9L833.2 75.6L832.9 75.7L832.0 75.8L831.0 76.1L830.0 76.7L829.2 77.4L828.3 78.4L827.6 79.4L826.9 80.6L826.4 81.8L825.8 83.1L825.4 84.4L825.0 85.7L824.6 86.9L824.3 88.1L824.0 89.2L823.7 90.1L823.4 91.0L823.2 91.7L822.9 92.3L822.7 92.8L822.3 93.3Z" fill="#2b7cc0"/>
<path d="M836.3 91.4L837.2 91.3L838.2 90.9L839.1 90.3L839.9 89.4L840.7 88.5L841.5 87.4L842.2 86.2L842.8 84.9L843.4 83.6L843.9 82.3L844.4 81.0L844.9 79.8L845.4 78.6L845.8 77.6L846.2 76.7L846.6 75.9L847.0 75.3L847.5 74.8L848.1 74.6L848.0 73.3L847.0 73.3L845.9 73.5L844.9 74.0L843.9 74.8L843.0 75.7L842.1 76.8L841.3 78.0L840.6 79.3L840.0 80.6L839.4 81.9L838.9 83.3L838.4 84.5L838.0 85.7L837.6 86.8L837.3 87.7L836.9 88.5L836.6 89.2L836.3 89.7L835.9 90.1Z" fill="#2b7cc0"/>
<path d="M850.0 89.3L851.1 89.2L852.1 88.8L853.1 88.1L854.1 87.3L855.0 86.2L855.8 85.1L856.6 83.8L857.3 82.4L858.0 81.1L858.6 79.7L859.2 78.4L859.8 77.2L860.3 76.1L860.8 75.2L861.3 74.4L861.7 73.8L862.3 73.3L862.7 73.1L862.6 71.8L861.9 71.8L860.8 71.9L859.6 72.4L858.5 73.1L857.5 74.1L856.6 75.2L855.7 76.5L854.9 77.8L854.1 79.2L853.5 80.6L852.9 81.9L852.3 83.2L851.8 84.3L851.4 85.4L851.0 86.2L850.6 86.9L850.2 87.5L849.8 87.9Z" fill="#2b7cc0"/>
<path d="M863.8 87.9L864.9 87.9L866.0 87.5L867.1 86.9L868.2 86.0L869.2 84.9L870.1 83.7L871.0 82.4L871.9 81.0L872.6 79.6L873.4 78.2L874.0 76.9L874.7 75.7L875.2 74.7L875.8 73.8L876.3 73.1L876.8 72.6L877.5 72.4L877.6 71.0L876.5 71.0L875.2 71.2L874.0 71.7L872.8 72.5L871.7 73.6L870.7 74.8L869.8 76.1L868.9 77.5L868.1 78.9L867.4 80.3L866.7 81.7L866.1 82.9L865.6 84.0L865.1 84.9L864.7 85.6L864.2 86.2L863.7 86.6Z" fill="#2b7cc0"/>
<path d="M878.1 87.1L879.2 87.1L880.5 86.7L881.7 86.0L882.8 85.1L883.9 83.9L884.9 82.6L885.9 81.2L886.8 79.7L887.6 78.3L888.4 76.9L889.1 75.6L889.8 74.5L890.4 73.6L890.9 72.9L891.5 72.4L892.0 72.1L892.0 70.9L891.2 70.8L889.9 70.9L888.6 71.5L887.4 72.3L886.2 73.4L885.1 74.7L884.0 76.0L883.1 77.5L882.2 79.0L881.4 80.4L880.7 81.7L880.1 82.9L879.5 83.9L879.0 84.7L878.5 85.3L877.9 85.8Z" fill="#2b7cc0"/>
<path d="M891.9 86.9L893.1 87.0L894.4 86.7L895.7 86.1L896.9 85.2L898.1 84.0L899.2 82.6L900.3 81.2L901.3 79.7L902.2 78.2L903.1 76.8L903.8 75.5L904.6 74.5L905.2 73.6L905.8 72.9L906.5 72.5L906.8 72.5L906.9 71.2L906.5 71.2L905.2 71.1L903.8 71.4L902.4 72.2L901.1 73.2L899.9 74.4L898.8 75.8L897.7 77.3L896.7 78.9L895.8 80.3L895.0 81.7L894.3 82.9L893.7 83.9L893.1 84.7L892.5 85.3L891.9 85.7Z" fill="#2b7cc0"/>
<path d="M906.3 87.3L907.6 87.4L908.9 87.0L910.3 86.3L911.6 85.2L912.9 84.0L914.1 82.6L915.2 81.0L916.2 79.5L917.2 78.0L918.1 76.6L918.9 75.5L919.6 74.5L920.3 73.8L921.0 73.3L921.3 73.2L921.3 72.0L920.9 71.9L919.5 71.8L918.1 72.3L916.6 73.1L915.3 74.2L914.0 75.5L912.8 77.0L911.7 78.6L910.6 80.1L909.7 81.6L908.9 82.9L908.2 84.0L907.5 84.9L906.9 85.5L906.2 86.0Z" fill="#2b7cc0"/>
<path d="M920.3 88.0L921.6 88.2L923.0 87.9L924.5 87.2L925.9 86.1L927.2 84.8L928.5 83.3L929.7 81.8L926.3 79.2L925.1 80.8L924.1 82.3L923.2 83.7L922.4 84.8L921.7 85.7L921.1 86.3L920.4 86.8Z" fill="#2b7cc0"/>
<circle cx="709.7" cy="132.2" r="11.4" fill="none" stroke="#cf1322" stroke-width="3.2"/>
<circle cx="779.6" cy="96.2" r="11.4" fill="none" stroke="#cf1322" stroke-width="3.2"/>
<path d="M668 91H678.5L700.5 123" fill="none" stroke="#555" stroke-width="1.5"/>
<path d="M726.8 120.9L752 108" fill="none" stroke="#2b3a45" stroke-width="3.4"/>
<path d="M761.7 103.1L753.1 114.8L754.5 106.8L747.2 103.2Z" fill="#2b3a45"/>
<path d="M529.0 516.0C527.9 517.7 524.4 523.5 522.2 526.1C520.0 528.8 518.4 530.5 515.7 531.9C513.0 533.3 509.4 533.5 505.8 534.3C502.2 535.1 498.2 535.3 494.4 536.8C490.6 538.3 486.3 540.4 483.0 543.3C479.7 546.1 476.7 550.2 474.8 553.9C472.9 557.6 471.6 561.3 471.5 565.4C471.4 569.5 472.4 574.6 474.0 578.4C475.6 582.2 478.2 585.5 481.3 588.2C484.4 590.9 488.7 593.4 492.8 594.8C496.9 596.2 501.7 596.9 505.8 596.4C509.9 595.9 514.0 594.0 517.3 591.5C520.6 589.0 523.7 585.0 525.5 581.7C527.3 578.4 528.0 574.9 527.9 571.9C527.8 568.9 526.0 566.0 524.6 563.7C523.2 561.4 520.5 559.0 519.7 558.0" fill="none" stroke="#0d0d0d" stroke-width="2.4" stroke-linecap="round" stroke-linejoin="round"/>
<path d="M631.1 437.7L640.5 457.1L626 462M627.8 442.4L629.8 453.8L622 459.5" fill="none" stroke="#4a4a4a" stroke-width="1.25"/>
<path d="M594.4 491.2L615.8 491.9L618.4 477.5M597 486.5L611.1 484.5L616.4 474.8" fill="none" stroke="#4a4a4a" stroke-width="1.25"/>
<path d="M614.8 383.4C605.2 422.2 571.9 464.1 545.1 493.7" fill="none" stroke="#174f80" stroke-width="62.0" stroke-linecap="round" stroke-linejoin="round"/>
<path d="M614.8 383.4C605.2 422.2 571.9 464.1 545.1 493.7" fill="none" stroke="#2c80c4" stroke-width="59.0" stroke-linecap="round" stroke-linejoin="round"/>
<path d="M614.8 383.4C605.2 422.2 571.9 464.1 545.1 493.7" fill="none" stroke="#1a5587" stroke-width="54.0" stroke-linecap="round" stroke-linejoin="round"/>
<path d="M614.8 383.4C605.2 422.2 571.9 464.1 545.1 493.7" fill="none" stroke="#bcd3ee" stroke-width="51.0" stroke-linecap="round" stroke-linejoin="round"/>
<path d="M610.3 388.9L611.1 389.6L611.9 390.3L612.7 391.0L613.4 391.7L614.1 392.4L614.6 393.0L615.1 393.7L615.5 394.3L615.9 395.0L616.1 395.6L616.2 396.2L616.2 396.7L617.4 397.0L617.5 396.2L617.5 395.3L617.4 394.5L617.1 393.6L616.7 392.7L616.2 391.9L615.6 391.0L615.0 390.2L614.2 389.4L613.4 388.6L612.6 387.9L611.7 387.1Z" fill="#5fa5dc"/>
<path d="M602.8 394.6L602.7 395.4L602.7 396.1L602.9 396.9L603.1 397.7L603.5 398.5L604.0 399.3L604.6 400.2L605.2 401.0L605.8 401.8L606.6 402.7L607.3 403.5L608.0 404.4L608.7 405.2L609.4 406.1L610.1 406.9L610.6 407.7L611.2 408.5L611.6 409.2L612.0 410.0L612.2 410.6L612.4 411.3L612.4 411.9L612.4 412.5L612.3 412.7L613.5 413.1L613.6 412.9L613.8 412.1L613.9 411.2L613.8 410.3L613.7 409.4L613.3 408.4L612.9 407.5L612.4 406.6L611.8 405.6L611.2 404.7L610.5 403.8L609.8 402.9L609.0 402.0L608.3 401.2L607.5 400.4L606.9 399.6L606.2 398.9L605.6 398.2L605.1 397.5L604.7 396.9L604.4 396.3L604.2 395.8L604.0 395.3L604.0 394.8Z" fill="#5fa5dc"/>
<path d="M599.4 408.6L599.2 409.3L599.1 410.1L599.2 411.0L599.3 411.8L599.6 412.7L600.0 413.6L600.5 414.6L601.0 415.5L601.6 416.5L602.2 417.5L602.8 418.5L603.4 419.4L604.0 420.4L604.6 421.4L605.1 422.3L605.5 423.2L605.9 424.1L606.2 424.9L606.4 425.6L606.5 426.3L606.5 427.0L606.4 427.6L606.3 427.8L607.4 428.4L607.5 428.1L607.9 427.3L608.0 426.4L608.1 425.5L608.0 424.5L607.8 423.5L607.4 422.4L607.0 421.4L606.5 420.3L605.9 419.3L605.3 418.2L604.7 417.2L604.1 416.2L603.5 415.3L602.9 414.4L602.3 413.5L601.8 412.7L601.4 411.9L601.0 411.2L600.8 410.6L600.6 410.0L600.6 409.4L600.6 408.9Z" fill="#5fa5dc"/>
<path d="M594.0 422.0L593.7 422.7L593.5 423.5L593.5 424.4L593.5 425.3L593.7 426.3L594.0 427.3L594.4 428.4L594.8 429.5L595.3 430.6L595.8 431.7L596.3 432.8L596.8 433.9L597.3 435.0L597.7 436.1L598.1 437.1L598.4 438.0L598.6 438.9L598.8 439.8L598.8 440.5L598.7 441.2L598.5 441.8L598.4 442.0L599.4 442.7L599.6 442.5L600.0 441.7L600.3 440.8L600.5 439.8L600.5 438.7L600.3 437.6L600.1 436.5L599.8 435.3L599.4 434.2L598.9 433.0L598.4 431.8L597.8 430.7L597.3 429.6L596.8 428.6L596.3 427.6L595.9 426.6L595.6 425.8L595.3 425.0L595.1 424.2L595.0 423.6L595.0 423.0L595.1 422.5Z" fill="#5fa5dc"/>
<path d="M586.9 434.8L586.5 435.5L586.2 436.4L586.0 437.4L586.0 438.4L586.1 439.5L586.4 440.6L586.7 441.8L587.0 443.0L587.4 444.2L587.8 445.4L588.2 446.7L588.6 447.9L589.0 449.1L589.3 450.2L589.5 451.2L589.7 452.2L589.7 453.1L589.6 453.9L589.5 454.6L589.1 455.2L590.1 456.0L590.7 455.2L591.1 454.3L591.4 453.3L591.5 452.2L591.5 451.0L591.4 449.8L591.1 448.5L590.8 447.3L590.4 446.0L590.0 444.7L589.6 443.5L589.1 442.3L588.7 441.1L588.4 440.0L588.1 439.1L587.9 438.1L587.7 437.3L587.7 436.6L587.8 436.0L587.9 435.4Z" fill="#5fa5dc"/>
<path d="M578.4 446.9L577.8 447.6L577.5 448.5L577.2 449.5L577.2 450.6L577.2 451.8L577.3 453.1L577.6 454.4L577.9 455.7L578.2 457.0L578.5 458.4L578.8 459.7L579.1 461.0L579.3 462.3L579.5 463.4L579.6 464.4L579.5 465.4L579.4 466.2L579.1 466.9L578.9 467.3L579.7 468.1L580.2 467.6L580.8 466.7L581.2 465.7L581.4 464.5L581.5 463.3L581.4 462.0L581.3 460.6L581.0 459.3L580.7 457.9L580.4 456.5L580.1 455.2L579.7 453.9L579.4 452.7L579.2 451.6L579.0 450.5L579.0 449.6L579.0 448.9L579.1 448.2L579.4 447.6Z" fill="#5fa5dc"/>
<path d="M568.8 458.1L568.2 458.9L567.7 459.8L567.4 460.9L567.2 462.0L567.2 463.3L567.2 464.7L567.4 466.1L567.6 467.5L567.8 469.0L568.1 470.4L568.3 471.9L568.5 473.2L568.6 474.5L568.6 475.6L568.5 476.6L568.3 477.5L568.0 478.2L567.7 478.7L568.6 479.5L569.1 479.0L569.7 478.1L570.2 477.0L570.5 475.8L570.6 474.5L570.6 473.1L570.5 471.6L570.3 470.1L570.1 468.6L569.9 467.2L569.6 465.7L569.4 464.4L569.2 463.2L569.1 462.1L569.1 461.1L569.2 460.3L569.4 459.6L569.7 458.9Z" fill="#5fa5dc"/>
<path d="M558.3 468.8L557.6 469.6L557.0 470.5L556.6 471.7L556.4 472.9L556.3 474.3L556.3 475.8L556.4 477.3L556.6 478.9L556.7 480.4L556.9 482.0L557.0 483.4L557.1 484.8L557.0 486.0L556.9 487.1L556.7 488.1L556.3 488.8L555.7 489.4L556.5 490.4L557.3 489.7L558.1 488.7L558.6 487.6L558.9 486.3L559.1 484.9L559.2 483.3L559.1 481.8L559.0 480.2L558.8 478.6L558.7 477.1L558.5 475.6L558.4 474.3L558.4 473.0L558.4 472.0L558.5 471.1L558.8 470.3L559.2 469.7Z" fill="#5fa5dc"/>
<path d="M546.9 479.1L546.1 480.0L545.5 481.0L545.1 482.3L544.9 483.7L544.8 485.2L544.7 486.8L544.8 488.5L544.9 489.6L547.1 489.4L547.1 488.3L547.0 486.7L546.9 485.2L546.9 483.8L547.0 482.6L547.1 481.6L547.4 480.7L547.8 480.0Z" fill="#5fa5dc"/>
<path d="M609.9 386.2L608.9 386.7L608.0 387.3L607.1 388.0L606.3 388.6L605.5 389.3L604.8 390.0L604.1 390.7L603.6 391.5L603.2 392.3L602.9 393.1L602.8 393.9L602.7 394.6L604.0 394.8L604.2 394.4L604.6 394.0L605.1 393.7L605.6 393.3L606.2 393.0L606.8 392.7L607.6 392.3L608.4 391.9L609.3 391.4L610.2 390.9L611.2 390.4L612.1 389.8Z" fill="#2b7cc0"/>
<path d="M616.2 396.7L615.8 397.2L615.4 397.7L614.9 398.1L614.3 398.4L613.7 398.8L612.9 399.2L612.1 399.5L611.3 399.9L610.3 400.3L609.4 400.6L608.4 401.0L607.3 401.5L606.3 401.9L605.3 402.4L604.3 402.9L603.4 403.4L602.5 404.0L601.7 404.6L601.0 405.3L600.4 406.0L599.9 406.8L599.6 407.6L599.4 408.3L599.4 408.6L600.6 408.9L600.6 408.8L601.0 408.4L601.5 408.1L602.0 407.9L602.6 407.6L603.3 407.4L604.1 407.1L605.0 406.8L605.9 406.5L606.9 406.2L607.9 405.8L609.0 405.4L610.0 405.0L611.1 404.5L612.1 404.0L613.1 403.4L614.1 402.7L614.9 402.0L615.7 401.2L616.3 400.4L616.8 399.6L617.2 398.7L617.4 397.8L617.4 397.0Z" fill="#2b7cc0"/>
<path d="M612.3 412.7L611.9 413.2L611.4 413.5L610.8 413.8L610.1 414.1L609.4 414.4L608.6 414.6L607.7 414.9L606.7 415.1L605.7 415.4L604.6 415.6L603.5 415.9L602.4 416.2L601.3 416.5L600.2 416.8L599.1 417.2L598.1 417.7L597.1 418.2L596.3 418.8L595.5 419.4L594.9 420.1L594.4 420.9L594.1 421.7L594.0 422.0L595.1 422.5L595.3 422.3L595.7 422.0L596.3 421.8L596.9 421.6L597.6 421.4L598.3 421.3L599.2 421.1L600.2 421.0L601.2 420.8L602.3 420.6L603.4 420.3L604.6 420.1L605.8 419.7L606.9 419.3L608.0 418.9L609.1 418.4L610.1 417.8L611.0 417.2L611.8 416.5L612.5 415.7L613.0 414.9L613.4 414.0L613.5 413.1Z" fill="#2b7cc0"/>
<path d="M606.3 427.8L605.8 428.2L605.2 428.5L604.6 428.8L603.8 429.0L603.0 429.1L602.1 429.3L601.1 429.4L600.1 429.5L598.9 429.6L597.8 429.8L596.6 429.9L595.3 430.1L594.1 430.3L592.9 430.5L591.8 430.9L590.7 431.2L589.7 431.7L588.8 432.3L588.0 433.0L587.4 433.7L587.0 434.5L586.9 434.8L588.0 435.4L588.1 435.3L588.6 435.0L589.2 434.8L589.9 434.7L590.6 434.6L591.5 434.5L592.5 434.5L593.5 434.4L594.6 434.4L595.8 434.3L597.1 434.2L598.3 434.0L599.6 433.8L600.8 433.5L602.0 433.2L603.1 432.7L604.2 432.2L605.1 431.6L606.0 430.9L606.6 430.1L607.1 429.3L607.4 428.4Z" fill="#2b7cc0"/>
<path d="M598.4 442.0L597.8 442.4L597.1 442.6L596.4 442.7L595.6 442.8L594.7 442.9L593.7 442.9L592.6 442.9L591.4 442.9L590.2 442.9L588.9 442.9L587.6 443.0L586.3 443.0L585.0 443.2L583.7 443.4L582.5 443.7L581.4 444.1L580.4 444.6L579.5 445.3L578.8 446.0L578.3 446.8L579.4 447.6L579.9 447.3L580.6 447.1L581.3 447.0L582.1 447.0L583.0 447.0L584.0 447.1L585.1 447.1L586.3 447.2L587.6 447.2L588.9 447.2L590.3 447.2L591.6 447.1L593.0 446.9L594.2 446.6L595.4 446.2L596.5 445.7L597.5 445.1L598.4 444.4L599.0 443.6L599.4 442.7Z" fill="#2b7cc0"/>
<path d="M589.1 455.2L588.4 455.5L587.7 455.6L586.9 455.7L586.1 455.7L585.1 455.7L584.0 455.6L582.8 455.5L581.5 455.3L580.1 455.2L578.7 455.1L577.3 455.1L575.9 455.1L574.6 455.2L573.2 455.4L572.0 455.7L570.9 456.2L569.9 456.8L569.2 457.6L568.8 458.1L569.7 458.9L570.2 458.8L570.9 458.6L571.6 458.6L572.5 458.7L573.4 458.8L574.5 458.9L575.7 459.1L577.0 459.2L578.4 459.4L579.8 459.5L581.2 459.5L582.7 459.5L584.1 459.4L585.4 459.2L586.7 458.8L587.8 458.3L588.8 457.6L589.5 456.9L590.1 456.0Z" fill="#2b7cc0"/>
<path d="M578.9 467.3L578.1 467.6L577.4 467.7L576.5 467.7L575.6 467.6L574.5 467.5L573.3 467.3L572.0 467.1L570.7 466.8L569.2 466.6L567.7 466.4L566.3 466.3L564.8 466.2L563.3 466.3L562.0 466.5L560.7 466.9L559.6 467.5L558.8 468.2L558.3 468.8L559.2 469.7L559.7 469.5L560.4 469.5L561.2 469.5L562.2 469.6L563.2 469.8L564.4 470.1L565.7 470.3L567.1 470.6L568.6 470.9L570.1 471.0L571.6 471.2L573.1 471.2L574.5 471.1L575.9 470.8L577.2 470.4L578.2 469.8L579.1 469.0L579.7 468.1Z" fill="#2b7cc0"/>
<path d="M567.7 478.7L567.0 478.9L566.1 478.9L565.2 478.9L564.2 478.7L563.1 478.5L561.8 478.2L560.4 477.8L558.9 477.5L557.4 477.2L555.8 476.9L554.2 476.7L552.7 476.7L551.2 476.8L549.9 477.1L548.6 477.6L547.6 478.3L546.8 479.1L547.8 480.1L548.5 479.7L549.3 479.7L550.1 479.8L551.2 480.0L552.3 480.3L553.6 480.6L555.0 481.0L556.5 481.4L558.0 481.7L559.6 482.0L561.2 482.1L562.8 482.1L564.2 482.0L565.6 481.7L566.8 481.1L567.8 480.4L568.6 479.5Z" fill="#2b7cc0"/>
<path d="M555.7 489.3L554.9 489.5L554.0 489.4L553.0 489.2L551.8 489.0L550.5 488.6L549.1 488.2L547.6 487.7L546.6 487.4L545.4 491.6L546.5 491.9L548.2 492.2L549.9 492.4L551.5 492.5L553.0 492.3L554.4 491.9L555.6 491.3L556.5 490.5Z" fill="#2b7cc0"/>
<g transform="translate(617.5 468) rotate(31.5)"><rect x="0" y="-5" width="29.5" height="10" fill="#474e4e"/><rect x="3.0" y="-5" width="1.3" height="10" fill="#93a5a1"/><rect x="6.6" y="-5" width="1.3" height="10" fill="#93a5a1"/><rect x="10.2" y="-5" width="1.3" height="10" fill="#93a5a1"/><rect x="13.8" y="-5" width="1.3" height="10" fill="#93a5a1"/><rect x="17.4" y="-5" width="1.3" height="10" fill="#93a5a1"/><rect x="21.0" y="-5" width="1.3" height="10" fill="#93a5a1"/><rect x="24.6" y="-5" width="1.3" height="10" fill="#93a5a1"/></g>
<path d="M655.4 478.2L665.8 486.4L664.0 499.4L651.8 504.4L641.4 496.2L643.2 483.2Z" fill="#9fb8b5" stroke="#505c5b" stroke-width="1.5" stroke-linejoin="round"/>
<path d="M657 494.5C660 492 658.5 488 654 488C648 488 645 486 641.8 483.8L617 467.8C611 464 609 452 607.2 445C605 438 597 438.5 593.1 441C588 444 585 450 581 448C576 445.5 573.5 441 574.8 437C576 433.5 578 432 580.4 431.1" fill="none" stroke="#c9102a" stroke-width="1.9" stroke-linecap="round"/>
<path d="M1108.2 555.0C1107.9 556.9 1106.6 563.1 1106.3 566.2C1106.0 569.3 1105.6 571.0 1106.3 573.6C1107.0 576.2 1108.8 578.7 1110.4 581.8C1112.0 584.9 1114.6 588.7 1116.1 592.4C1117.6 596.1 1118.9 600.0 1119.3 603.8C1119.7 607.6 1119.5 611.5 1118.5 615.3C1117.5 619.1 1116.0 623.4 1113.6 626.7C1111.1 630.0 1107.6 633.0 1103.8 634.9C1100.0 636.8 1095.1 637.8 1090.8 638.1C1086.5 638.4 1081.5 638.1 1077.7 636.5C1073.9 634.9 1070.6 631.6 1067.9 628.3C1065.2 625.0 1062.5 620.4 1061.3 616.9C1060.1 613.4 1060.0 610.4 1060.5 607.1C1061.0 603.8 1062.5 599.9 1064.6 597.3C1066.6 594.7 1069.5 592.9 1072.8 591.6C1076.1 590.3 1082.3 589.8 1084.2 589.4" fill="none" stroke="#0d0d0d" stroke-width="2.4" stroke-linecap="round" stroke-linejoin="round"/>
<defs><radialGradient id="fade" cx="1054" cy="447" r="46" gradientUnits="userSpaceOnUse"><stop offset="0" stop-color="#fff"/><stop offset="0.3" stop-color="#fff"/><stop offset="0.6" stop-color="#fff" stop-opacity="0.6"/><stop offset="1" stop-color="#fff" stop-opacity="0"/></radialGradient></defs>
<path d="M1068.6 419C1072 426 1082 435 1093 434C1104 433 1109 420 1113.8 408.7C1118 398 1121 392 1125.7 387.8C1132 380 1141 375.7 1149.5 375.7C1162 375.7 1173 383 1176.5 402.7C1178 413 1174.5 420 1169.8 429.5C1164 444 1159 455 1155.4 468C1151 482 1147 492 1145 503.8C1143 514 1142 522 1140.6 530.6C1138 545 1126 558.8 1107.9 558.8C1092 558.8 1084 545 1082.6 524.6C1082 514 1083 505 1082.6 494.9C1082 488 1082 484 1079.6 480C1076 474 1073 471 1069.2 471C1062 471 1057 472 1053 479Z" fill="#dbb0bb" stroke="none"/>
<circle cx="1054" cy="447" r="46" fill="url(#fade)"/>
<path d="M1068.6 419C1072 426 1082 435 1093 434C1104 433 1109 420 1113.8 408.7C1118 398 1121 392 1125.7 387.8C1132 380 1141 375.7 1149.5 375.7C1162 375.7 1173 383 1176.5 402.7C1178 413 1174.5 420 1169.8 429.5C1164 444 1159 455 1155.4 468C1151 482 1147 492 1145 503.8C1143 514 1142 522 1140.6 530.6C1138 545 1126 558.8 1107.9 558.8C1092 558.8 1084 545 1082.6 524.6C1082 514 1083 505 1082.6 494.9C1082 488 1082 484 1079.6 480C1076 474 1073 471 1069.2 471C1062 471 1057 472 1053 479" fill="none" stroke="#561d32" stroke-width="5.6" stroke-linecap="round" stroke-linejoin="round"/>
<path d="M1068.6 419C1072 426 1082 435 1093 434C1104 433 1109 420 1113.8 408.7C1118 398 1121 392 1125.7 387.8C1132 380 1141 375.7 1149.5 375.7C1162 375.7 1173 383 1176.5 402.7C1178 413 1174.5 420 1169.8 429.5C1164 444 1159 455 1155.4 468C1151 482 1147 492 1145 503.8C1143 514 1142 522 1140.6 530.6C1138 545 1126 558.8 1107.9 558.8C1092 558.8 1084 545 1082.6 524.6C1082 514 1083 505 1082.6 494.9C1082 488 1082 484 1079.6 480C1076 474 1073 471 1069.2 471C1062 471 1057 472 1053 479" fill="none" stroke="#973857" stroke-width="2.6" stroke-linecap="round" stroke-linejoin="round"/>
<path d="M1135.7 430.9L1133.2 431.6L1130.9 432.4L1129.1 433.3L1127.9 434.5L1127.4 435.9L1128.7 436.0L1129.0 435.4L1130.0 434.8L1131.6 434.3L1133.8 433.7L1136.3 433.1Z" fill="#ee9488"/>
<path d="M1139.9 439.7L1139.1 440.4L1137.8 440.9L1136.1 441.4L1134.2 441.7L1132.1 442.0L1130.0 442.3L1128.2 442.6L1126.5 443.1L1125.2 443.6L1124.2 444.3L1123.6 445.3L1124.7 445.8L1125.1 445.5L1125.8 445.2L1127.0 444.9L1128.5 444.7L1130.3 444.5L1132.4 444.3L1134.6 443.9L1136.7 443.4L1138.6 442.7L1140.1 441.7L1141.1 440.3Z" fill="#ee9488"/>
<path d="M1135.4 451.2L1134.8 451.7L1133.9 452.1L1132.8 452.4L1131.5 452.5L1130.1 452.5L1128.6 452.5L1127.1 452.3L1125.6 452.2L1124.2 452.0L1122.9 451.9L1121.8 451.8L1120.8 451.8L1119.9 451.8L1119.2 452.1L1118.6 452.4L1118.4 452.6L1119.2 453.5L1119.3 453.5L1119.6 453.5L1120.0 453.5L1120.7 453.6L1121.6 453.7L1122.6 454.0L1123.9 454.2L1125.3 454.4L1126.9 454.6L1128.5 454.7L1130.1 454.7L1131.8 454.6L1133.3 454.3L1134.6 453.7L1135.7 452.9L1136.4 451.8Z" fill="#ee9488"/>
<path d="M1127.3 462.3L1126.7 462.6L1126.0 462.8L1125.3 462.9L1124.4 462.8L1123.6 462.6L1122.6 462.2L1121.7 461.8L1120.8 461.3L1119.9 460.8L1119.0 460.1L1118.2 459.5L1117.4 458.8L1116.7 458.2L1116.0 457.6L1115.4 457.0L1114.8 456.5L1114.2 456.1L1113.7 455.7L1113.2 455.5L1112.6 455.4L1112.2 455.4L1112.3 456.6L1112.4 456.7L1112.5 456.8L1112.8 457.0L1113.1 457.4L1113.5 457.8L1113.9 458.4L1114.5 459.0L1115.1 459.8L1115.9 460.5L1116.7 461.2L1117.6 462.0L1118.6 462.7L1119.7 463.3L1120.8 463.8L1122.0 464.2L1123.1 464.5L1124.3 464.6L1125.4 464.6L1126.4 464.3L1127.4 463.9L1128.1 463.2Z" fill="#ee9488"/>
<path d="M1113.2 468.6L1112.7 468.5L1112.1 468.2L1111.5 467.9L1111.0 467.4L1110.5 466.8L1110.0 466.1L1109.5 465.2L1109.0 464.3L1108.6 463.3L1108.2 462.2L1107.8 461.1L1107.4 460.1L1107.1 459.0L1106.7 458.0L1106.3 457.0L1105.9 456.1L1105.5 455.3L1104.9 454.7L1104.3 454.2L1103.6 453.9L1103.2 455.1L1103.5 455.3L1103.7 455.7L1104.0 456.2L1104.2 456.8L1104.5 457.7L1104.7 458.6L1105.0 459.6L1105.3 460.7L1105.6 461.9L1106.0 463.0L1106.5 464.2L1107.0 465.3L1107.6 466.3L1108.3 467.3L1109.0 468.1L1109.8 468.8L1110.7 469.3L1111.5 469.7L1112.4 469.8L1113.3 469.8Z" fill="#ee9488"/>
<path d="M1099.4 466.5L1098.9 466.1L1098.6 465.6L1098.2 465.0L1097.9 464.2L1097.7 463.2L1097.5 462.1L1097.3 460.9L1097.1 459.6L1097.0 458.2L1096.9 456.9L1096.7 455.5L1096.5 454.2L1096.2 453.0L1095.8 451.9L1095.3 451.0L1094.6 450.3L1093.9 449.8L1093.6 449.6L1093.1 450.8L1093.3 450.8L1093.6 451.2L1093.8 451.8L1094.1 452.5L1094.2 453.5L1094.4 454.5L1094.5 455.8L1094.6 457.1L1094.7 458.5L1094.9 459.9L1095.1 461.2L1095.3 462.6L1095.7 463.8L1096.1 464.9L1096.7 465.9L1097.4 466.7L1098.1 467.3L1099.0 467.6Z" fill="#ee9488"/>
<path d="M1087.9 461.5L1087.5 461.1L1087.2 460.5L1087.0 459.7L1086.8 458.7L1086.7 457.5L1086.6 456.1L1086.6 454.7L1086.5 453.2L1086.4 451.7L1086.3 450.2L1086.0 448.8L1085.7 447.5L1085.3 446.4L1084.7 445.5L1083.9 444.8L1083.3 444.5L1082.8 445.6L1083.1 445.8L1083.4 446.3L1083.6 447.1L1083.8 448.0L1084.0 449.1L1084.1 450.4L1084.1 451.8L1084.2 453.3L1084.3 454.8L1084.4 456.3L1084.6 457.7L1084.9 459.1L1085.2 460.2L1085.8 461.3L1086.4 462.1L1087.2 462.6Z" fill="#ee9488"/>
<path d="M1077.4 456.3L1077.1 455.9L1076.8 455.3L1076.6 454.5L1076.4 453.4L1076.3 452.2L1076.2 450.8L1076.1 449.3L1076.0 447.8L1075.8 446.2L1075.6 444.7L1075.2 443.3L1074.8 442.0L1074.2 441.0L1073.4 440.1L1072.5 439.5L1071.9 439.3L1071.6 440.5L1071.9 440.7L1072.3 441.1L1072.7 441.8L1073.0 442.7L1073.2 443.8L1073.4 445.1L1073.6 446.5L1073.7 448.0L1073.8 449.5L1074.0 451.0L1074.2 452.5L1074.5 453.8L1074.8 455.0L1075.4 456.0L1076.0 456.9L1076.9 457.4Z" fill="#ee9488"/>
<path d="M1067.2 451.6L1066.8 451.2L1066.6 450.6L1066.3 449.7L1066.0 448.7L1065.8 447.5L1065.6 446.1L1065.3 444.6L1065.0 443.1L1064.6 441.6L1064.1 440.2L1063.6 438.9L1062.9 437.7L1062.1 436.8L1061.2 436.1L1060.2 435.7L1059.5 435.5L1059.4 436.8L1059.8 436.9L1060.3 437.3L1060.8 437.9L1061.3 438.7L1061.7 439.7L1062.1 440.9L1062.4 442.2L1062.7 443.6L1063.0 445.1L1063.4 446.5L1063.7 447.9L1064.1 449.2L1064.5 450.4L1065.1 451.4L1065.7 452.2L1066.6 452.7Z" fill="#ee9488"/>
<path d="M1057.1 448.5L1056.7 448.2L1056.4 447.7L1056.0 447.0L1055.6 446.1L1055.2 445.0L1054.7 443.7L1054.1 442.4L1053.5 441.0L1052.7 439.7L1052.0 438.4L1051.1 437.2L1050.1 436.2L1049.1 435.5L1048.0 434.9L1046.9 434.7L1045.8 434.8L1046.0 436.0L1046.7 436.1L1047.4 436.4L1048.0 436.9L1048.7 437.6L1049.4 438.5L1050.1 439.6L1050.8 440.8L1051.4 442.1L1052.0 443.4L1052.6 444.6L1053.2 445.9L1053.8 447.0L1054.4 447.9L1055.1 448.8L1055.9 449.4L1056.7 449.7Z" fill="#ee9488"/>
<path d="M1047.2 447.9L1046.9 447.7L1046.5 447.4L1045.9 446.8L1045.2 446.0L1044.5 445.1L1043.6 444.1L1042.5 442.9L1041.8 442.2L1040.2 443.8L1040.9 444.5L1041.9 445.6L1042.9 446.6L1043.8 447.4L1044.7 448.2L1045.5 448.7L1046.4 449.1L1047.3 449.1Z" fill="#ee9488"/>
<path d="M1134.9 433.1L1136.7 434.9L1138.3 436.5L1139.4 437.8L1140.0 438.8L1139.9 439.7L1141.1 440.3L1141.6 438.7L1141.4 436.8L1140.5 434.8L1139.0 432.8L1137.1 430.9Z" fill="#dc1a22"/>
<path d="M1127.3 435.9L1127.2 437.5L1127.8 439.2L1128.8 440.9L1130.0 442.6L1131.3 444.3L1132.6 445.8L1133.7 447.3L1134.5 448.5L1135.1 449.6L1135.4 450.4L1135.4 451.2L1136.4 451.8L1137.0 450.6L1137.2 449.1L1136.9 447.5L1136.1 445.7L1135.1 444.0L1133.8 442.3L1132.4 440.6L1131.1 439.1L1129.9 437.9L1129.1 436.8L1128.7 436.1Z" fill="#dc1a22"/>
<path d="M1123.6 445.3L1123.1 446.3L1123.1 447.6L1123.3 448.8L1123.8 450.2L1124.4 451.5L1125.0 452.9L1125.7 454.3L1126.3 455.6L1126.8 456.8L1127.3 458.0L1127.6 459.0L1127.7 460.0L1127.8 460.8L1127.7 461.5L1127.4 462.1L1127.3 462.3L1128.1 463.2L1128.4 463.0L1129.1 462.3L1129.7 461.3L1130.0 460.1L1130.1 458.8L1130.0 457.4L1129.7 455.9L1129.2 454.4L1128.6 452.9L1127.8 451.5L1127.1 450.1L1126.3 448.9L1125.7 447.9L1125.2 447.0L1124.8 446.3L1124.7 445.8Z" fill="#dc1a22"/>
<path d="M1118.4 452.6L1117.9 453.1L1117.5 453.7L1117.3 454.5L1117.1 455.3L1117.1 456.2L1117.0 457.1L1117.0 458.1L1117.0 459.1L1116.9 460.1L1116.8 461.1L1116.7 462.2L1116.6 463.2L1116.3 464.1L1116.1 465.0L1115.8 465.8L1115.4 466.5L1115.0 467.1L1114.6 467.7L1114.1 468.1L1113.6 468.4L1113.2 468.6L1113.3 469.8L1113.9 469.8L1114.8 469.6L1115.7 469.3L1116.6 468.7L1117.4 468.0L1118.1 467.1L1118.7 466.1L1119.2 465.0L1119.6 463.9L1119.8 462.7L1120.0 461.5L1120.1 460.2L1120.1 459.1L1120.0 457.9L1119.9 456.9L1119.7 456.0L1119.6 455.2L1119.4 454.5L1119.3 454.1L1119.2 453.7L1119.2 453.5Z" fill="#dc1a22"/>
<path d="M1112.2 455.4L1111.6 455.4L1111.0 455.6L1110.4 456.0L1109.8 456.5L1109.2 457.0L1108.6 457.7L1108.0 458.4L1107.4 459.2L1106.7 460.1L1106.0 461.0L1105.3 461.8L1104.5 462.7L1103.8 463.5L1103.1 464.3L1102.4 464.9L1101.7 465.5L1101.1 465.9L1100.5 466.2L1099.9 466.4L1099.4 466.4L1099.0 467.6L1099.8 467.9L1100.8 468.0L1101.8 467.9L1102.8 467.6L1103.9 467.1L1104.9 466.5L1105.9 465.7L1106.8 464.8L1107.7 463.9L1108.5 463.0L1109.2 462.0L1109.8 461.0L1110.4 460.1L1110.9 459.3L1111.3 458.6L1111.6 457.9L1111.9 457.4L1112.1 457.0L1112.2 456.8L1112.3 456.6Z" fill="#dc1a22"/>
<path d="M1103.6 453.9L1102.8 453.7L1101.9 453.6L1101.0 453.8L1100.0 454.1L1099.0 454.6L1098.0 455.3L1096.9 456.0L1095.8 456.8L1094.7 457.6L1093.6 458.4L1092.6 459.2L1091.6 459.9L1090.7 460.5L1089.9 461.0L1089.2 461.3L1088.6 461.5L1088.0 461.6L1087.9 461.5L1087.2 462.6L1087.5 462.7L1088.4 463.2L1089.5 463.3L1090.6 463.2L1091.8 462.9L1093.0 462.4L1094.2 461.7L1095.4 461.0L1096.6 460.1L1097.7 459.3L1098.7 458.4L1099.7 457.6L1100.5 456.9L1101.3 456.3L1101.9 455.8L1102.4 455.5L1102.8 455.2L1103.2 455.1Z" fill="#dc1a22"/>
<path d="M1093.6 449.6L1092.7 449.2L1091.6 449.1L1090.5 449.3L1089.3 449.6L1088.0 450.2L1086.8 450.8L1085.5 451.6L1084.2 452.4L1083.0 453.3L1081.8 454.1L1080.8 454.8L1079.8 455.4L1079.0 455.9L1078.4 456.2L1077.8 456.3L1077.4 456.3L1076.9 457.4L1077.4 457.7L1078.5 458.0L1079.6 458.0L1080.8 457.7L1082.1 457.3L1083.4 456.6L1084.7 455.9L1086.0 455.1L1087.2 454.3L1088.4 453.4L1089.5 452.7L1090.5 452.0L1091.3 451.5L1092.0 451.1L1092.6 450.9L1093.1 450.8Z" fill="#dc1a22"/>
<path d="M1083.3 444.5L1082.3 444.0L1081.2 443.9L1080.0 444.0L1078.7 444.4L1077.4 445.0L1076.1 445.7L1074.8 446.5L1073.5 447.5L1072.3 448.4L1071.2 449.2L1070.2 450.0L1069.3 450.7L1068.6 451.2L1068.0 451.5L1067.5 451.7L1067.2 451.6L1066.6 452.7L1067.1 453.0L1068.1 453.2L1069.2 453.2L1070.4 452.9L1071.6 452.4L1072.8 451.7L1074.1 450.9L1075.4 450.0L1076.6 449.1L1077.8 448.3L1078.9 447.5L1079.9 446.8L1080.8 446.2L1081.5 445.8L1082.2 445.6L1082.8 445.6Z" fill="#dc1a22"/>
<path d="M1071.9 439.3L1070.9 438.9L1069.7 438.9L1068.4 439.2L1067.2 439.8L1065.9 440.5L1064.7 441.4L1063.5 442.4L1062.4 443.5L1061.3 444.5L1060.4 445.6L1059.5 446.5L1058.8 447.2L1058.2 447.8L1057.7 448.2L1057.3 448.5L1057.1 448.5L1056.7 449.7L1057.3 449.8L1058.2 449.9L1059.2 449.7L1060.3 449.2L1061.3 448.5L1062.4 447.7L1063.5 446.8L1064.6 445.8L1065.6 444.8L1066.7 443.8L1067.7 442.9L1068.6 442.1L1069.5 441.4L1070.3 441.0L1070.9 440.7L1071.6 440.5Z" fill="#dc1a22"/>
<path d="M1059.6 435.5L1058.5 435.3L1057.3 435.5L1056.1 436.0L1055.0 436.7L1053.9 437.7L1052.9 438.8L1051.9 440.0L1051.0 441.3L1050.3 442.5L1049.6 443.8L1049.0 444.9L1048.5 445.9L1048.1 446.7L1047.8 447.3L1047.5 447.7L1047.2 447.9L1047.3 449.1L1048.1 449.1L1049.0 448.7L1049.8 448.1L1050.6 447.3L1051.4 446.4L1052.2 445.3L1053.0 444.2L1053.7 443.0L1054.5 441.8L1055.3 440.7L1056.1 439.6L1056.8 438.7L1057.5 438.0L1058.2 437.4L1058.8 437.0L1059.4 436.8Z" fill="#dc1a22"/>
<path d="M1045.8 434.7L1044.7 434.9L1043.6 435.4L1042.6 436.2L1041.7 437.3L1040.9 438.6L1040.2 440.0L1039.7 441.6L1039.4 442.6L1042.6 443.4L1042.8 442.4L1043.2 441.1L1043.6 439.8L1044.0 438.7L1044.5 437.7L1044.9 437.0L1045.5 436.4L1046.0 436.0Z" fill="#dc1a22"/>
<path d="M1031.2 442.8L1031.8 454.8" fill="none" stroke="#dc1a22" stroke-width="2.8" stroke-linecap="round"/>
<path d="M991.7 452C996 450.5 999 449 1002.4 448.6C1007 448 1010 448.5 1013.8 450.4" fill="none" stroke="#e4604f" stroke-width="3" stroke-linecap="round"/>
<path d="M1017 434L1020 430.5" fill="none" stroke="#ef9a8c" stroke-width="2.2" stroke-linecap="round"/>
<path d="M1013 427.5L1014.6 424.5M1035.6 413L1037.6 415" fill="none" stroke="#d8222a" stroke-width="2.4" stroke-linecap="round"/>
<path d="M1032.7 474C1005 487 960 492 927 468.2" fill="none" stroke="#2b3a45" stroke-width="3.5"/>
<path d="M919.0 462.6L935.0 465.9L926.6 467.9L927.6 476.5Z" fill="#2b3a45"/>
</svg>
</body></html>
